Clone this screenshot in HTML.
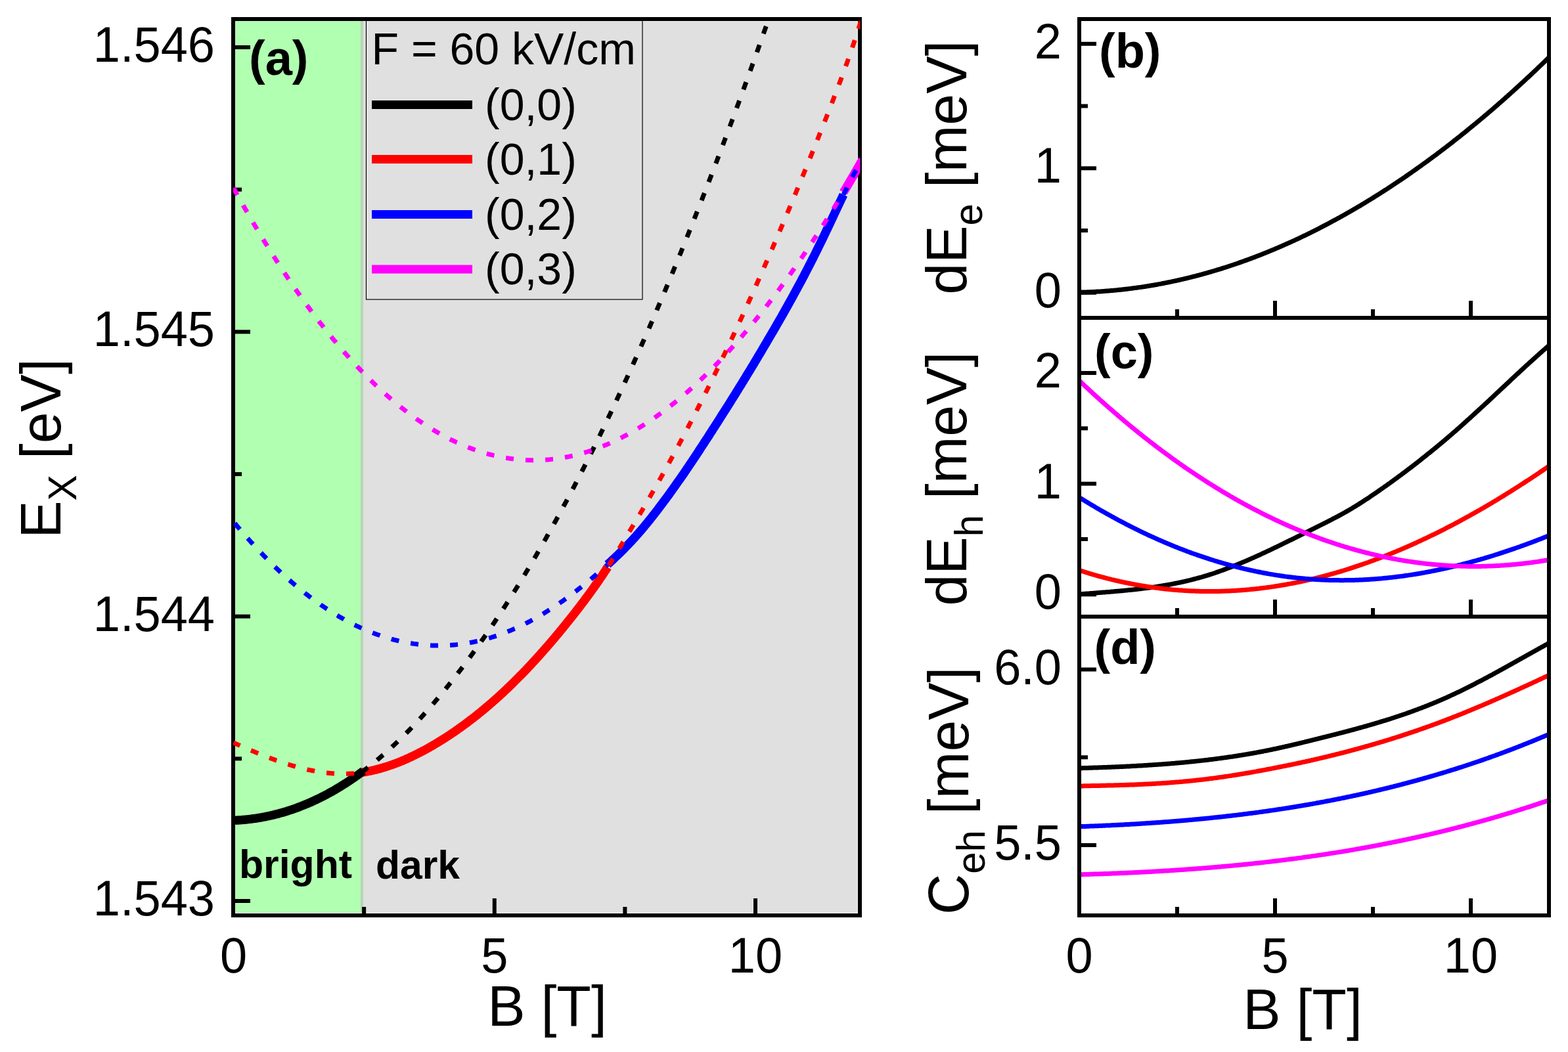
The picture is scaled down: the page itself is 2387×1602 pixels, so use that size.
<!DOCTYPE html>
<html><head><meta charset="utf-8"><title>Exciton energies vs magnetic field</title>
<style>html,body{margin:0;padding:0;background:#fff;}svg{display:block;}</style>
</head><body>
<svg width="2387" height="1602" viewBox="0 0 2387 1602">
<defs>
<clipPath id="cpa"><rect x="355" y="29" width="954.5" height="1365"/></clipPath>
<clipPath id="cpb"><rect x="1646" y="32" width="709" height="449"/></clipPath>
<clipPath id="cpc"><rect x="1646" y="487" width="709" height="449"/></clipPath>
<clipPath id="cpd"><rect x="1646" y="942" width="709" height="449"/></clipPath>
</defs>
<rect x="0" y="0" width="2387" height="1602" fill="#FFFFFF"/>
<rect x="358" y="32" width="193.5" height="1359" fill="#B1FFB1"/>
<rect x="551.5" y="32" width="754.5" height="1359" fill="#E0E0E0"/>
<rect x="549" y="32" width="3" height="1359" fill="#BCD0BC"/>
<rect x="552" y="32" width="1" height="1359" fill="#B6E0B6"/>
<rect x="553" y="32" width="1" height="1359" fill="#D6E0D6"/>
<rect x="1305" y="32" width="1" height="1359" fill="#F0F0F0"/>
<rect x="358" y="1390" width="191" height="1" fill="#FAFFFA"/>
<rect x="549" y="1390" width="757" height="1" fill="#F2F2F2"/>
<rect x="358" y="32" width="1" height="1358" fill="#BFFFBF"/>
<rect x="358" y="32" width="191" height="1" fill="#BFFFBF"/>
<rect x="553" y="32" width="752" height="1" fill="#F0F0F0"/>
<rect x="557.5" y="29" width="420.5" height="427" fill="#E0E0E0" stroke="#000" stroke-width="1.2"/>
<rect x="559" y="32" width="1" height="423" fill="#F0F0F0"/>
<g font-family="'Liberation Sans', Arial, sans-serif" font-size="68" fill="#000">
<text transform="translate(565.5,98.2) scale(1,1.02)" >F = 60 kV/cm</text>
<rect x="566" y="153.0" width="153" height="13" fill="#000000"/>
<text transform="translate(738.0,183.0)" >(0,0)</text>
<rect x="566" y="236.0" width="153" height="13" fill="#FF0000"/>
<text transform="translate(738.0,265.8)" >(0,1)</text>
<rect x="566" y="320.0" width="153" height="13" fill="#0000FF"/>
<text transform="translate(738.0,350.0)" >(0,2)</text>
<rect x="566" y="403.5" width="153" height="13" fill="#FF00FF"/>
<text transform="translate(738.0,432.7)" >(0,3)</text>
</g>
<g font-family="'Liberation Sans', Arial, sans-serif" font-weight="bold" fill="#000">
<text transform="translate(379.0,114.0)" font-size="74">(a)</text>
<text transform="translate(364.0,1337.3)" font-size="62" textLength="172" lengthAdjust="spacingAndGlyphs">bright</text>
<text transform="translate(572.0,1337.8)" font-size="62" textLength="128" lengthAdjust="spacingAndGlyphs">dark</text>
<text transform="translate(1673.0,103.0)" font-size="74">(b)</text>
<text transform="translate(1666.0,561.0)" font-size="74">(c)</text>
<text transform="translate(1665.5,1011.0)" font-size="74">(d)</text>
</g>
<rect x="355" y="29" width="954" height="1365" fill="none" stroke="#000" stroke-width="6"/>
<rect x="749.75" y="1368" width="6" height="26" fill="#000"/>
<rect x="1147.00" y="1368" width="6" height="26" fill="#000"/>
<rect x="551.12" y="1381" width="6" height="13" fill="#000"/>
<rect x="948.38" y="1381" width="6" height="13" fill="#000"/>
<rect x="355" y="69.00" width="26" height="6" fill="#000"/>
<rect x="355" y="502.33" width="26" height="6" fill="#000"/>
<rect x="355" y="935.67" width="26" height="6" fill="#000"/>
<rect x="355" y="1369.00" width="26" height="6" fill="#000"/>
<rect x="355" y="285.67" width="13" height="6" fill="#000"/>
<rect x="355" y="719.00" width="13" height="6" fill="#000"/>
<rect x="355" y="1152.33" width="13" height="6" fill="#000"/>
<g clip-path="url(#cpa)" fill="none" stroke-linejoin="round">
<path d="M550.5,1176.3 L552.0,1176.1 L553.5,1175.8 L555.0,1175.6 L556.5,1175.3 L558.0,1175.1 L559.5,1174.8 L561.0,1174.5 L562.5,1174.2 L564.0,1173.9 L565.5,1173.6 L567.0,1173.2 L568.5,1172.9 L570.1,1172.5 L571.6,1172.2 L573.1,1171.8 L574.6,1171.4 L576.1,1171.0 L577.6,1170.6 L579.1,1170.2 L580.6,1169.8 L582.1,1169.3 L583.6,1168.9 L585.1,1168.4 L586.6,1168.0 L588.1,1167.5 L589.6,1167.0 L591.1,1166.5 L592.6,1166.0 L594.1,1165.5 L595.6,1165.0 L597.1,1164.5 L598.6,1163.9 L600.1,1163.4 L601.6,1162.8 L603.1,1162.2 L604.6,1161.7 L606.1,1161.1 L607.7,1160.5 L609.2,1159.9 L610.7,1159.3 L612.2,1158.6 L613.7,1158.0 L615.2,1157.4 L616.7,1156.7 L618.2,1156.1 L619.7,1155.4 L621.2,1154.7 L622.7,1154.0 L624.2,1153.3 L625.7,1152.6 L627.2,1151.9 L628.7,1151.2 L630.2,1150.5 L631.7,1149.7 L633.2,1149.0 L634.7,1148.2 L636.2,1147.5 L637.7,1146.7 L639.2,1145.9 L640.7,1145.2 L642.2,1144.4 L643.7,1143.6 L645.3,1142.8 L646.8,1142.0 L648.3,1141.1 L649.8,1140.3 L651.3,1139.5 L652.8,1138.6 L654.3,1137.8 L655.8,1136.9 L657.3,1136.1 L658.8,1135.2 L660.3,1134.3 L661.8,1133.4 L663.3,1132.5 L664.8,1131.6 L666.3,1130.7 L667.8,1129.8 L669.3,1128.9 L670.8,1127.9 L672.3,1127.0 L673.8,1126.1 L675.3,1125.1 L676.8,1124.2 L678.3,1123.2 L679.8,1122.2 L681.3,1121.2 L682.9,1120.3 L684.4,1119.3 L685.9,1118.3 L687.4,1117.3 L688.9,1116.2 L690.4,1115.2 L691.9,1114.2 L693.4,1113.2 L694.9,1112.1 L696.4,1111.1 L697.9,1110.0 L699.4,1108.9 L700.9,1107.9 L702.4,1106.8 L703.9,1105.7 L705.4,1104.6 L706.9,1103.5 L708.4,1102.4 L709.9,1101.3 L711.4,1100.2 L712.9,1099.0 L714.4,1097.9 L715.9,1096.7 L717.4,1095.6 L718.9,1094.4 L720.5,1093.3 L722.0,1092.1 L723.5,1090.9 L725.0,1089.7 L726.5,1088.5 L728.0,1087.3 L729.5,1086.1 L731.0,1084.9 L732.5,1083.7 L734.0,1082.4 L735.5,1081.2 L737.0,1079.9 L738.5,1078.7 L740.0,1077.4 L741.5,1076.1 L743.0,1074.9 L744.5,1073.6 L746.0,1072.3 L747.5,1071.0 L749.0,1069.7 L750.5,1068.3 L752.0,1067.0 L753.5,1065.7 L755.0,1064.4 L756.6,1063.0 L758.1,1061.6 L759.6,1060.3 L761.1,1058.9 L762.6,1057.5 L764.1,1056.1 L765.6,1054.8 L767.1,1053.4 L768.6,1051.9 L770.1,1050.5 L771.6,1049.1 L773.1,1047.7 L774.6,1046.2 L776.1,1044.8 L777.6,1043.3 L779.1,1041.9 L780.6,1040.4 L782.1,1038.9 L783.6,1037.4 L785.1,1035.9 L786.6,1034.4 L788.1,1032.9 L789.6,1031.4 L791.1,1029.9 L792.6,1028.3 L794.2,1026.8 L795.7,1025.3 L797.2,1023.7 L798.7,1022.1 L800.2,1020.6 L801.7,1019.0 L803.2,1017.4 L804.7,1015.8 L806.2,1014.2 L807.7,1012.6 L809.2,1011.0 L810.7,1009.4 L812.2,1007.7 L813.7,1006.1 L815.2,1004.5 L816.7,1002.8 L818.2,1001.1 L819.7,999.5 L821.2,997.8 L822.7,996.1 L824.2,994.4 L825.7,992.8 L827.2,991.1 L828.7,989.3 L830.2,987.6 L831.8,985.9 L833.3,984.2 L834.8,982.4 L836.3,980.7 L837.8,978.9 L839.3,977.2 L840.8,975.4 L842.3,973.7 L843.8,971.9 L845.3,970.1 L846.8,968.3 L848.3,966.5 L849.8,964.7 L851.3,962.9 L852.8,961.1 L854.3,959.2 L855.8,957.4 L857.3,955.6 L858.8,953.7 L860.3,951.9 L861.8,950.0 L863.3,948.1 L864.8,946.3 L866.3,944.4 L867.8,942.5 L869.4,940.6 L870.9,938.7 L872.4,936.8 L873.9,934.9 L875.4,933.0 L876.9,931.1 L878.4,929.1 L879.9,927.2 L881.4,925.2 L882.9,923.3 L884.4,921.3 L885.9,919.3 L887.4,917.3 L888.9,915.4 L890.4,913.3 L891.9,911.3 L893.4,909.3 L894.9,907.3 L896.4,905.2 L897.9,903.2 L899.4,901.1 L900.9,899.0 L902.4,896.9 L903.9,894.8 L905.4,892.7 L907.0,890.5 L908.5,888.4 L910.0,886.2 L911.5,884.0 L913.0,881.8 L914.5,879.6 L916.0,877.4 L917.5,875.2 L919.0,872.9 L920.5,870.6 L922.0,868.3 L923.5,866.0 L925.0,863.7" stroke="#FF0000" stroke-width="13.3"/>
<path d="M355.5,1249.4 L357.0,1249.3 L358.5,1249.2 L360.0,1249.2 L361.5,1249.1 L363.0,1249.0 L364.5,1248.9 L366.1,1248.8 L367.6,1248.7 L369.1,1248.5 L370.6,1248.4 L372.1,1248.3 L373.6,1248.1 L375.1,1248.0 L376.6,1247.8 L378.1,1247.7 L379.6,1247.5 L381.1,1247.3 L382.6,1247.1 L384.1,1246.9 L385.7,1246.7 L387.2,1246.5 L388.7,1246.3 L390.2,1246.1 L391.7,1245.8 L393.2,1245.6 L394.7,1245.3 L396.2,1245.1 L397.7,1244.8 L399.2,1244.6 L400.7,1244.3 L402.2,1244.0 L403.7,1243.7 L405.3,1243.4 L406.8,1243.1 L408.3,1242.8 L409.8,1242.4 L411.3,1242.1 L412.8,1241.8 L414.3,1241.4 L415.8,1241.1 L417.3,1240.7 L418.8,1240.3 L420.3,1239.9 L421.8,1239.6 L423.3,1239.2 L424.9,1238.8 L426.4,1238.3 L427.9,1237.9 L429.4,1237.5 L430.9,1237.1 L432.4,1236.6 L433.9,1236.2 L435.4,1235.7 L436.9,1235.2 L438.4,1234.8 L439.9,1234.3 L441.4,1233.8 L442.9,1233.3 L444.5,1232.8 L446.0,1232.3 L447.5,1231.7 L449.0,1231.2 L450.5,1230.7 L452.0,1230.1 L453.5,1229.6 L455.0,1229.0 L456.5,1228.4 L458.0,1227.8 L459.5,1227.2 L461.0,1226.6 L462.5,1226.0 L464.0,1225.4 L465.6,1224.8 L467.1,1224.2 L468.6,1223.5 L470.1,1222.9 L471.6,1222.2 L473.1,1221.6 L474.6,1220.9 L476.1,1220.2 L477.6,1219.5 L479.1,1218.8 L480.6,1218.1 L482.1,1217.4 L483.6,1216.7 L485.2,1216.0 L486.7,1215.2 L488.2,1214.5 L489.7,1213.7 L491.2,1212.9 L492.7,1212.2 L494.2,1211.4 L495.7,1210.6 L497.2,1209.8 L498.7,1209.0 L500.2,1208.2 L501.7,1207.4 L503.2,1206.5 L504.8,1205.7 L506.3,1204.8 L507.8,1204.0 L509.3,1203.1 L510.8,1202.2 L512.3,1201.3 L513.8,1200.4 L515.3,1199.5 L516.8,1198.6 L518.3,1197.7 L519.8,1196.8 L521.3,1195.8 L522.8,1194.9 L524.4,1193.9 L525.9,1193.0 L527.4,1192.0 L528.9,1191.0 L530.4,1190.0 L531.9,1189.0 L533.4,1188.0 L534.9,1187.0 L536.4,1186.0 L537.9,1184.9 L539.4,1183.9 L540.9,1182.8 L542.4,1181.8 L544.0,1180.7 L545.5,1179.6 L547.0,1178.5 L548.5,1177.4 L550.0,1176.3 L551.5,1175.2 L553.0,1174.1" stroke="#000000" stroke-width="13.3"/>
<path d="M925.0,859.6 L926.5,858.2 L928.0,856.9 L929.5,855.5 L931.0,854.1 L932.5,852.7 L934.0,851.3 L935.5,849.9 L937.0,848.4 L938.5,847.0 L940.0,845.6 L941.5,844.1 L943.0,842.7 L944.5,841.2 L946.0,839.7 L947.5,838.2 L949.0,836.7 L950.5,835.2 L952.0,833.6 L953.5,832.1 L955.0,830.5 L956.5,829.0 L958.0,827.4 L959.5,825.8 L961.1,824.2 L962.6,822.5 L964.1,820.9 L965.6,819.2 L967.1,817.6 L968.6,815.9 L970.1,814.2 L971.6,812.5 L973.1,810.7 L974.6,809.0 L976.1,807.3 L977.6,805.5 L979.1,803.7 L980.6,801.9 L982.1,800.1 L983.6,798.3 L985.1,796.5 L986.6,794.6 L988.1,792.8 L989.6,790.9 L991.1,789.0 L992.6,787.1 L994.1,785.2 L995.6,783.3 L997.1,781.4 L998.6,779.5 L1000.1,777.5 L1001.6,775.6 L1003.1,773.6 L1004.6,771.6 L1006.1,769.6 L1007.6,767.6 L1009.1,765.6 L1010.6,763.6 L1012.1,761.6 L1013.6,759.6 L1015.1,757.5 L1016.6,755.4 L1018.1,753.4 L1019.6,751.3 L1021.1,749.2 L1022.6,747.1 L1024.1,745.0 L1025.6,742.9 L1027.1,740.8 L1028.6,738.7 L1030.1,736.5 L1031.6,734.4 L1033.2,732.2 L1034.7,730.1 L1036.2,727.9 L1037.7,725.7 L1039.2,723.6 L1040.7,721.4 L1042.2,719.2 L1043.7,717.0 L1045.2,714.8 L1046.7,712.6 L1048.2,710.3 L1049.7,708.1 L1051.2,705.9 L1052.7,703.6 L1054.2,701.4 L1055.7,699.1 L1057.2,696.9 L1058.7,694.6 L1060.2,692.4 L1061.7,690.1 L1063.2,687.8 L1064.7,685.5 L1066.2,683.2 L1067.7,680.9 L1069.2,678.6 L1070.7,676.3 L1072.2,674.0 L1073.7,671.7 L1075.2,669.4 L1076.7,667.1 L1078.2,664.8 L1079.7,662.5 L1081.2,660.1 L1082.7,657.8 L1084.2,655.5 L1085.7,653.1 L1087.2,650.8 L1088.7,648.4 L1090.2,646.1 L1091.7,643.8 L1093.2,641.4 L1094.7,639.1 L1096.2,636.7 L1097.7,634.3 L1099.2,632.0 L1100.7,629.6 L1102.2,627.2 L1103.7,624.9 L1105.3,622.5 L1106.8,620.1 L1108.3,617.7 L1109.8,615.3 L1111.3,612.9 L1112.8,610.5 L1114.3,608.1 L1115.8,605.7 L1117.3,603.3 L1118.8,600.9 L1120.3,598.5 L1121.8,596.1 L1123.3,593.7 L1124.8,591.2 L1126.3,588.8 L1127.8,586.4 L1129.3,583.9 L1130.8,581.5 L1132.3,579.1 L1133.8,576.6 L1135.3,574.2 L1136.8,571.7 L1138.3,569.2 L1139.8,566.8 L1141.3,564.3 L1142.8,561.8 L1144.3,559.3 L1145.8,556.8 L1147.3,554.4 L1148.8,551.9 L1150.3,549.4 L1151.8,546.9 L1153.3,544.4 L1154.8,541.8 L1156.3,539.3 L1157.8,536.8 L1159.3,534.3 L1160.8,531.7 L1162.3,529.2 L1163.8,526.7 L1165.3,524.1 L1166.8,521.6 L1168.3,519.0 L1169.8,516.4 L1171.3,513.9 L1172.8,511.3 L1174.3,508.7 L1175.8,506.1 L1177.4,503.6 L1178.9,501.0 L1180.4,498.4 L1181.9,495.8 L1183.4,493.1 L1184.9,490.5 L1186.4,487.9 L1187.9,485.3 L1189.4,482.7 L1190.9,480.0 L1192.4,477.4 L1193.9,474.7 L1195.4,472.0 L1196.9,469.4 L1198.4,466.7 L1199.9,464.0 L1201.4,461.3 L1202.9,458.6 L1204.4,455.9 L1205.9,453.2 L1207.4,450.5 L1208.9,447.7 L1210.4,445.0 L1211.9,442.2 L1213.4,439.5 L1214.9,436.7 L1216.4,433.9 L1217.9,431.1 L1219.4,428.3 L1220.9,425.5 L1222.4,422.6 L1223.9,419.8 L1225.4,416.9 L1226.9,414.0 L1228.4,411.2 L1229.9,408.3 L1231.4,405.3 L1232.9,402.4 L1234.4,399.5 L1235.9,396.5 L1237.4,393.6 L1238.9,390.6 L1240.4,387.6 L1241.9,384.6 L1243.4,381.5 L1244.9,378.5 L1246.4,375.4 L1247.9,372.3 L1249.5,369.2 L1251.0,366.1 L1252.5,363.0 L1254.0,359.9 L1255.5,356.7 L1257.0,353.6 L1258.5,350.4 L1260.0,347.3 L1261.5,344.1 L1263.0,340.9 L1264.5,337.7 L1266.0,334.6 L1267.5,331.4 L1269.0,328.2 L1270.5,325.0 L1272.0,321.8 L1273.5,318.7 L1275.0,315.5 L1276.5,312.3 L1278.0,309.2 L1279.5,306.0 L1281.0,302.9 L1282.5,299.7 L1284.0,296.6" stroke="#0000FF" stroke-width="13.3"/>
<path d="M1284.0,292.9 L1285.5,290.3 L1287.1,287.8 L1288.6,285.2 L1290.1,282.6 L1291.6,280.1 L1293.2,277.5 L1294.7,274.9 L1296.2,272.3 L1297.7,269.7 L1299.3,267.1 L1300.8,264.4 L1302.3,261.8 L1303.8,259.2 L1305.4,256.5 L1306.9,253.9 L1308.4,251.2 L1309.9,248.6 L1311.5,245.9 L1313.0,243.2" stroke="#FF00FF" stroke-width="13.3"/>
<g stroke-width="7.0" stroke-dasharray="12 18.1" stroke-linecap="butt">
<path d="M550.5,1176.0 L551.5,1175.2 L552.5,1174.5 L553.5,1173.7 L554.5,1173.0 L555.5,1172.2 L556.5,1171.4 L557.5,1170.7 L558.5,1169.9 L559.5,1169.1 L560.5,1168.4 L561.5,1167.6 L562.5,1166.8 L563.5,1166.0 L564.5,1165.2 L565.5,1164.4 L566.5,1163.6 L567.5,1162.8 L568.5,1162.0 L569.5,1161.2 L570.5,1160.4 L571.5,1159.5 L572.5,1158.7 L573.5,1157.9 L574.5,1157.0 L575.5,1156.2 L576.5,1155.4 L577.5,1154.5 L578.5,1153.7 L579.5,1152.8 L580.5,1152.0 L581.5,1151.1 L582.5,1150.2 L583.5,1149.4 L584.5,1148.5 L585.5,1147.6 L586.5,1146.7 L587.5,1145.8 L588.5,1144.9 L589.5,1144.0 L590.5,1143.1 L591.5,1142.2 L592.5,1141.3 L593.5,1140.4 L594.5,1139.5 L595.5,1138.6 L596.5,1137.7 L597.5,1136.7 L598.5,1135.8 L599.5,1134.9 L600.5,1133.9 L601.5,1133.0 L602.5,1132.0 L603.5,1131.1 L604.5,1130.1 L605.5,1129.2 L606.5,1128.2 L607.5,1127.2 L608.5,1126.2 L609.5,1125.3 L610.5,1124.3 L611.5,1123.3 L612.5,1122.3 L613.6,1121.3 L614.6,1120.3 L615.6,1119.3 L616.6,1118.3 L617.6,1117.3 L618.6,1116.3 L619.6,1115.3 L620.6,1114.3 L621.6,1113.3 L622.6,1112.2 L623.6,1111.2 L624.6,1110.2 L625.6,1109.1 L626.6,1108.1 L627.6,1107.0 L628.6,1106.0 L629.6,1104.9 L630.6,1103.9 L631.6,1102.8 L632.6,1101.7 L633.6,1100.7 L634.6,1099.6 L635.6,1098.5 L636.6,1097.4 L637.6,1096.4 L638.6,1095.3 L639.6,1094.2 L640.6,1093.1 L641.6,1092.0 L642.6,1090.9 L643.6,1089.8 L644.6,1088.7 L645.6,1087.5 L646.6,1086.4 L647.6,1085.3 L648.6,1084.2 L649.6,1083.0 L650.6,1081.9 L651.6,1080.8 L652.6,1079.6 L653.6,1078.5 L654.6,1077.3 L655.6,1076.2 L656.6,1075.0 L657.6,1073.9 L658.6,1072.7 L659.6,1071.5 L660.6,1070.4 L661.6,1069.2 L662.6,1068.0 L663.6,1066.8 L664.6,1065.7 L665.6,1064.5 L666.6,1063.3 L667.6,1062.1 L668.6,1060.9 L669.6,1059.7 L670.6,1058.5 L671.6,1057.3 L672.6,1056.0 L673.6,1054.8 L674.6,1053.6 L675.6,1052.4 L676.6,1051.1 L677.6,1049.9 L678.6,1048.7 L679.6,1047.4 L680.6,1046.2 L681.6,1044.9 L682.6,1043.7 L683.6,1042.4 L684.6,1041.2 L685.6,1039.9 L686.6,1038.7 L687.6,1037.4 L688.6,1036.1 L689.6,1034.8 L690.6,1033.6 L691.6,1032.3 L692.6,1031.0 L693.6,1029.7 L694.6,1028.4 L695.6,1027.1 L696.6,1025.8 L697.6,1024.5 L698.6,1023.2 L699.6,1021.9 L700.6,1020.6 L701.6,1019.3 L702.6,1018.0 L703.6,1016.6 L704.6,1015.3 L705.6,1014.0 L706.6,1012.6 L707.6,1011.3 L708.6,1010.0 L709.6,1008.6 L710.6,1007.3 L711.6,1005.9 L712.6,1004.6 L713.6,1003.2 L714.6,1001.8 L715.6,1000.5 L716.6,999.1 L717.6,997.7 L718.6,996.4 L719.6,995.0 L720.6,993.6 L721.6,992.2 L722.6,990.8 L723.6,989.4 L724.6,988.0 L725.6,986.6 L726.6,985.2 L727.6,983.8 L728.6,982.4 L729.6,981.0 L730.6,979.6 L731.6,978.2 L732.6,976.7 L733.6,975.3 L734.6,973.9 L735.6,972.5 L736.6,971.0 L737.7,969.6 L738.7,968.1 L739.7,966.7 L740.7,965.2 L741.7,963.8 L742.7,962.3 L743.7,960.9 L744.7,959.4 L745.7,957.9 L746.7,956.4 L747.7,955.0 L748.7,953.5 L749.7,952.0 L750.7,950.5 L751.7,949.0 L752.7,947.5 L753.7,946.0 L754.7,944.5 L755.7,943.0 L756.7,941.5 L757.7,940.0 L758.7,938.5 L759.7,937.0 L760.7,935.5 L761.7,934.0 L762.7,932.4 L763.7,930.9 L764.7,929.4 L765.7,927.8 L766.7,926.3 L767.7,924.7 L768.7,923.2 L769.7,921.6 L770.7,920.1 L771.7,918.5 L772.7,917.0 L773.7,915.4 L774.7,913.8 L775.7,912.2 L776.7,910.7 L777.7,909.1 L778.7,907.5 L779.7,905.9 L780.7,904.3 L781.7,902.7 L782.7,901.1 L783.7,899.5 L784.7,897.9 L785.7,896.3 L786.7,894.7 L787.7,893.1 L788.7,891.5 L789.7,889.9 L790.7,888.2 L791.7,886.6 L792.7,885.0 L793.7,883.3 L794.7,881.7 L795.7,880.1 L796.7,878.4 L797.7,876.8 L798.7,875.1 L799.7,873.5 L800.7,871.8 L801.7,870.1 L802.7,868.5 L803.7,866.8 L804.7,865.1 L805.7,863.4 L806.7,861.8 L807.7,860.1 L808.7,858.4 L809.7,856.7 L810.7,855.0 L811.7,853.3 L812.7,851.6 L813.7,849.9 L814.7,848.2 L815.7,846.5 L816.7,844.8 L817.7,843.0 L818.7,841.3 L819.7,839.6 L820.7,837.9 L821.7,836.1 L822.7,834.4 L823.7,832.7 L824.7,830.9 L825.7,829.2 L826.7,827.4 L827.7,825.7 L828.7,823.9 L829.7,822.1 L830.7,820.4 L831.7,818.6 L832.7,816.8 L833.7,815.1 L834.7,813.3 L835.7,811.5 L836.7,809.7 L837.7,807.9 L838.7,806.1 L839.7,804.3 L840.7,802.5 L841.7,800.7 L842.7,798.9 L843.7,797.1 L844.7,795.3 L845.7,793.5 L846.7,791.7 L847.7,789.8 L848.7,788.0 L849.7,786.2 L850.7,784.3 L851.7,782.5 L852.7,780.7 L853.7,778.8 L854.7,777.0 L855.7,775.1 L856.7,773.3 L857.7,771.4 L858.7,769.5 L859.7,767.7 L860.7,765.8 L861.8,763.9 L862.8,762.0 L863.8,760.2 L864.8,758.3 L865.8,756.4 L866.8,754.5 L867.8,752.6 L868.8,750.7 L869.8,748.8 L870.8,746.9 L871.8,745.0 L872.8,743.1 L873.8,741.2 L874.8,739.2 L875.8,737.3 L876.8,735.4 L877.8,733.5 L878.8,731.5 L879.8,729.6 L880.8,727.7 L881.8,725.7 L882.8,723.8 L883.8,721.8 L884.8,719.9 L885.8,717.9 L886.8,715.9 L887.8,714.0 L888.8,712.0 L889.8,710.0 L890.8,708.1 L891.8,706.1 L892.8,704.1 L893.8,702.1 L894.8,700.1 L895.8,698.1 L896.8,696.1 L897.8,694.1 L898.8,692.1 L899.8,690.1 L900.8,688.1 L901.8,686.1 L902.8,684.1 L903.8,682.1 L904.8,680.0 L905.8,678.0 L906.8,676.0 L907.8,673.9 L908.8,671.9 L909.8,669.9 L910.8,667.8 L911.8,665.8 L912.8,663.7 L913.8,661.7 L914.8,659.6 L915.8,657.5 L916.8,655.5 L917.8,653.4 L918.8,651.3 L919.8,649.2 L920.8,647.2 L921.8,645.1 L922.8,643.0 L923.8,640.9 L924.8,638.8 L925.8,636.7 L926.8,634.6 L927.8,632.5 L928.8,630.4 L929.8,628.3 L930.8,626.2 L931.8,624.1 L932.8,621.9 L933.8,619.8 L934.8,617.7 L935.8,615.6 L936.8,613.4 L937.8,611.3 L938.8,609.1 L939.8,607.0 L940.8,604.8 L941.8,602.7 L942.8,600.5 L943.8,598.4 L944.8,596.2 L945.8,594.1 L946.8,591.9 L947.8,589.7 L948.8,587.5 L949.8,585.4 L950.8,583.2 L951.8,581.0 L952.8,578.8 L953.8,576.6 L954.8,574.4 L955.8,572.2 L956.8,570.0 L957.8,567.8 L958.8,565.6 L959.8,563.4 L960.8,561.2 L961.8,559.0 L962.8,556.7 L963.8,554.5 L964.8,552.3 L965.8,550.0 L966.8,547.8 L967.8,545.6 L968.8,543.3 L969.8,541.1 L970.8,538.8 L971.8,536.6 L972.8,534.3 L973.8,532.1 L974.8,529.8 L975.8,527.5 L976.8,525.3 L977.8,523.0 L978.8,520.7 L979.8,518.5 L980.8,516.2 L981.8,513.9 L982.8,511.6 L983.8,509.3 L984.8,507.0 L985.9,504.7 L986.9,502.4 L987.9,500.1 L988.9,497.8 L989.9,495.5 L990.9,493.2 L991.9,490.9 L992.9,488.5 L993.9,486.2 L994.9,483.9 L995.9,481.6 L996.9,479.2 L997.9,476.9 L998.9,474.6 L999.9,472.2 L1000.9,469.9 L1001.9,467.5 L1002.9,465.2 L1003.9,462.8 L1004.9,460.4 L1005.9,458.1 L1006.9,455.7 L1007.9,453.3 L1008.9,451.0 L1009.9,448.6 L1010.9,446.2 L1011.9,443.8 L1012.9,441.5 L1013.9,439.1 L1014.9,436.7 L1015.9,434.3 L1016.9,431.9 L1017.9,429.5 L1018.9,427.1 L1019.9,424.7 L1020.9,422.3 L1021.9,419.8 L1022.9,417.4 L1023.9,415.0 L1024.9,412.6 L1025.9,410.2 L1026.9,407.7 L1027.9,405.3 L1028.9,402.9 L1029.9,400.4 L1030.9,398.0 L1031.9,395.5 L1032.9,393.1 L1033.9,390.6 L1034.9,388.2 L1035.9,385.7 L1036.9,383.3 L1037.9,380.8 L1038.9,378.3 L1039.9,375.9 L1040.9,373.4 L1041.9,370.9 L1042.9,368.4 L1043.9,366.0 L1044.9,363.5 L1045.9,361.0 L1046.9,358.5 L1047.9,356.0 L1048.9,353.5 L1049.9,351.0 L1050.9,348.5 L1051.9,346.0 L1052.9,343.5 L1053.9,341.0 L1054.9,338.5 L1055.9,335.9 L1056.9,333.4 L1057.9,330.9 L1058.9,328.4 L1059.9,325.8 L1060.9,323.3 L1061.9,320.8 L1062.9,318.2 L1063.9,315.7 L1064.9,313.1 L1065.9,310.6 L1066.9,308.0 L1067.9,305.5 L1068.9,302.9 L1069.9,300.4 L1070.9,297.8 L1071.9,295.2 L1072.9,292.6 L1073.9,290.1 L1074.9,287.5 L1075.9,284.9 L1076.9,282.3 L1077.9,279.8 L1078.9,277.2 L1079.9,274.6 L1080.9,272.0 L1081.9,269.4 L1082.9,266.8 L1083.9,264.2 L1084.9,261.6 L1085.9,259.0 L1086.9,256.3 L1087.9,253.7 L1088.9,251.1 L1089.9,248.5 L1090.9,245.9 L1091.9,243.2 L1092.9,240.6 L1093.9,238.0 L1094.9,235.3 L1095.9,232.7 L1096.9,230.1 L1097.9,227.4 L1098.9,224.8 L1099.9,222.1 L1100.9,219.5 L1101.9,216.8 L1102.9,214.1 L1103.9,211.5 L1104.9,208.8 L1105.9,206.1 L1106.9,203.5 L1107.9,200.8 L1108.9,198.1 L1110.0,195.4 L1111.0,192.8 L1112.0,190.1 L1113.0,187.4 L1114.0,184.7 L1115.0,182.0 L1116.0,179.3 L1117.0,176.6 L1118.0,173.9 L1119.0,171.2 L1120.0,168.5 L1121.0,165.8 L1122.0,163.0 L1123.0,160.3 L1124.0,157.6 L1125.0,154.9 L1126.0,152.2 L1127.0,149.4 L1128.0,146.7 L1129.0,144.0 L1130.0,141.2 L1131.0,138.5 L1132.0,135.7 L1133.0,133.0 L1134.0,130.2 L1135.0,127.5 L1136.0,124.7 L1137.0,122.0 L1138.0,119.2 L1139.0,116.4 L1140.0,113.7 L1141.0,110.9 L1142.0,108.1 L1143.0,105.4 L1144.0,102.6 L1145.0,99.8 L1146.0,97.0 L1147.0,94.2 L1148.0,91.4 L1149.0,88.7 L1150.0,85.9 L1151.0,83.1 L1152.0,80.3 L1153.0,77.5 L1154.0,74.7 L1155.0,71.8 L1156.0,69.0 L1157.0,66.2 L1158.0,63.4 L1159.0,60.6 L1160.0,57.8 L1161.0,54.9 L1162.0,52.1 L1163.0,49.3 L1164.0,46.4 L1165.0,43.6 L1166.0,40.8 L1167.0,37.9 L1168.0,35.1 L1169.0,32.2 L1170.0,29.4 L1171.0,26.5 L1172.0,23.7" stroke="#000000"/>
<path d="M355.5,1131.0 L357.0,1131.7 L358.5,1132.4 L360.0,1133.0 L361.5,1133.7 L363.0,1134.4 L364.5,1135.0 L366.0,1135.7 L367.5,1136.3 L369.0,1137.0 L370.5,1137.7 L372.0,1138.3 L373.5,1139.0 L375.0,1139.6 L376.5,1140.3 L378.0,1140.9 L379.5,1141.5 L381.0,1142.2 L382.5,1142.8 L384.0,1143.5 L385.5,1144.1 L387.0,1144.7 L388.5,1145.3 L390.0,1146.0 L391.5,1146.6 L393.0,1147.2 L394.5,1147.8 L396.0,1148.4 L397.5,1149.0 L399.0,1149.6 L400.5,1150.2 L402.0,1150.8 L403.5,1151.4 L405.0,1152.0 L406.5,1152.6 L408.0,1153.2 L409.5,1153.8 L411.0,1154.3 L412.5,1154.9 L414.0,1155.5 L415.5,1156.0 L417.0,1156.6 L418.5,1157.1 L420.0,1157.7 L421.5,1158.2 L423.0,1158.7 L424.5,1159.3 L426.0,1159.8 L427.5,1160.3 L429.0,1160.8 L430.5,1161.3 L432.0,1161.8 L433.5,1162.3 L435.0,1162.8 L436.5,1163.3 L438.0,1163.8 L439.5,1164.2 L441.0,1164.7 L442.5,1165.2 L444.0,1165.6 L445.5,1166.1 L447.0,1166.5 L448.5,1166.9 L450.0,1167.4 L451.5,1167.8 L453.0,1168.2 L454.5,1168.6 L456.0,1169.0 L457.5,1169.4 L459.0,1169.8 L460.5,1170.2 L462.0,1170.5 L463.5,1170.9 L465.0,1171.3 L466.5,1171.6 L468.0,1172.0 L469.5,1172.3 L471.0,1172.6 L472.5,1172.9 L474.0,1173.2 L475.5,1173.5 L477.0,1173.8 L478.5,1174.1 L480.0,1174.4 L481.5,1174.7 L483.0,1174.9 L484.5,1175.2 L486.0,1175.4 L487.5,1175.7 L489.0,1175.9 L490.5,1176.1 L492.0,1176.3 L493.5,1176.5 L495.0,1176.7 L496.5,1176.9 L498.0,1177.0 L499.5,1177.2 L501.0,1177.3 L502.5,1177.5 L504.0,1177.6 L505.5,1177.7 L507.0,1177.8 L508.5,1177.9 L510.0,1178.0 L511.5,1178.1 L513.0,1178.2 L514.5,1178.2 L516.0,1178.3 L517.5,1178.3 L519.0,1178.3 L520.5,1178.4 L522.0,1178.4 L523.5,1178.4 L525.0,1178.3 L526.5,1178.3 L528.0,1178.3 L529.5,1178.2 L531.0,1178.2 L532.5,1178.1 L534.0,1178.0 L535.5,1177.9 L537.0,1177.8 L538.5,1177.7 L540.0,1177.5 L541.5,1177.4 L543.0,1177.2 L544.5,1177.1 L546.0,1176.9 L547.5,1176.7 L549.0,1176.5 L550.5,1176.3" stroke="#FF0000" stroke-dashoffset="1.1"/>
<path d="M925.0,863.7 L926.0,862.2 L927.0,860.6 L928.0,859.0 L929.0,857.5 L930.0,855.9 L931.0,854.3 L932.0,852.7 L933.0,851.1 L934.0,849.5 L935.0,847.8 L936.0,846.2 L937.0,844.6 L938.0,842.9 L939.0,841.3 L940.0,839.7 L941.0,838.0 L942.0,836.4 L943.0,834.7 L944.0,833.1 L945.0,831.4 L946.0,829.7 L947.0,828.1 L948.0,826.4 L949.0,824.8 L950.0,823.1 L951.0,821.5 L952.0,819.8 L953.0,818.1 L954.0,816.5 L955.0,814.8 L956.0,813.2 L957.0,811.5 L958.0,809.8 L959.0,808.2 L960.0,806.5 L961.0,804.8 L962.0,803.1 L963.0,801.5 L964.0,799.8 L965.0,798.1 L966.0,796.4 L967.0,794.8 L968.0,793.1 L969.0,791.4 L970.0,789.7 L971.0,788.0 L972.0,786.3 L973.0,784.6 L974.0,783.0 L975.0,781.3 L976.0,779.6 L977.0,777.9 L978.0,776.2 L979.0,774.5 L980.0,772.8 L981.0,771.0 L982.0,769.3 L983.0,767.6 L984.0,765.9 L985.0,764.2 L986.0,762.5 L987.0,760.7 L988.0,759.0 L989.0,757.3 L990.0,755.5 L991.0,753.8 L992.0,752.1 L993.0,750.3 L994.0,748.6 L995.0,746.8 L996.0,745.1 L997.0,743.3 L998.0,741.6 L999.0,739.8 L1000.0,738.0 L1001.0,736.3 L1002.0,734.5 L1003.0,732.7 L1004.0,730.9 L1005.0,729.2 L1006.0,727.4 L1007.0,725.6 L1008.0,723.8 L1009.0,722.0 L1010.0,720.2 L1011.0,718.4 L1012.0,716.6 L1013.0,714.8 L1014.0,713.0 L1015.0,711.2 L1016.0,709.4 L1017.0,707.5 L1018.0,705.7 L1019.0,703.9 L1020.0,702.1 L1021.0,700.2 L1022.0,698.4 L1023.0,696.6 L1024.0,694.7 L1025.0,692.9 L1026.0,691.0 L1027.0,689.2 L1028.0,687.3 L1029.0,685.5 L1030.0,683.6 L1031.0,681.7 L1032.0,679.9 L1033.0,678.0 L1034.0,676.1 L1035.0,674.3 L1036.0,672.4 L1037.0,670.5 L1038.0,668.6 L1039.0,666.7 L1040.0,664.8 L1041.0,662.9 L1042.0,661.0 L1043.0,659.1 L1044.0,657.2 L1045.0,655.3 L1046.0,653.4 L1047.0,651.5 L1048.0,649.6 L1049.0,647.6 L1050.0,645.7 L1051.0,643.8 L1052.0,641.9 L1053.0,639.9 L1054.0,638.0 L1055.0,636.0 L1056.0,634.1 L1057.0,632.2 L1058.0,630.2 L1059.0,628.3 L1060.0,626.3 L1061.0,624.3 L1062.0,622.4 L1063.0,620.4 L1064.0,618.4 L1065.0,616.5 L1066.0,614.5 L1067.0,612.5 L1068.0,610.5 L1069.0,608.5 L1070.0,606.5 L1071.0,604.5 L1072.0,602.6 L1073.0,600.6 L1074.0,598.5 L1075.0,596.5 L1076.0,594.5 L1077.0,592.5 L1078.0,590.5 L1079.0,588.5 L1080.0,586.5 L1081.0,584.4 L1082.0,582.4 L1083.0,580.4 L1084.0,578.3 L1085.0,576.3 L1086.0,574.3 L1087.0,572.2 L1088.0,570.2 L1089.0,568.1 L1090.0,566.1 L1091.0,564.0 L1092.0,561.9 L1093.0,559.9 L1094.0,557.8 L1095.0,555.7 L1096.0,553.7 L1097.0,551.6 L1098.0,549.5 L1099.0,547.4 L1100.0,545.3 L1101.0,543.2 L1102.0,541.1 L1103.0,539.0 L1104.0,536.9 L1105.0,534.8 L1106.0,532.7 L1107.0,530.6 L1108.0,528.5 L1109.0,526.4 L1110.0,524.3 L1111.0,522.1 L1112.0,520.0 L1113.0,517.9 L1114.0,515.8 L1115.0,513.6 L1116.0,511.5 L1117.0,509.3 L1118.0,507.2 L1119.0,505.0 L1120.0,502.9 L1121.0,500.7 L1122.0,498.6 L1123.0,496.4 L1124.0,494.3 L1125.0,492.1 L1126.0,489.9 L1127.0,487.7 L1128.0,485.6 L1129.0,483.4 L1130.0,481.2 L1131.0,479.0 L1132.0,476.8 L1133.0,474.6 L1134.0,472.4 L1135.0,470.2 L1136.0,468.0 L1137.0,465.8 L1138.0,463.6 L1139.0,461.4 L1140.0,459.2 L1141.0,457.0 L1142.0,454.8 L1143.0,452.6 L1144.0,450.3 L1145.0,448.1 L1146.0,445.9 L1147.0,443.6 L1148.0,441.4 L1149.0,439.2 L1150.0,436.9 L1151.0,434.7 L1152.0,432.4 L1153.0,430.2 L1154.0,427.9 L1155.0,425.7 L1156.0,423.4 L1157.0,421.1 L1158.0,418.9 L1159.0,416.6 L1160.0,414.3 L1161.0,412.1 L1162.0,409.8 L1163.0,407.5 L1164.0,405.2 L1165.0,402.9 L1166.0,400.6 L1167.0,398.4 L1168.0,396.1 L1169.0,393.8 L1170.0,391.5 L1171.0,389.2 L1172.0,386.9 L1173.0,384.5 L1174.0,382.2 L1175.0,379.9 L1176.0,377.6 L1177.0,375.3 L1178.0,373.0 L1179.0,370.6 L1180.0,368.3 L1181.0,366.0 L1182.0,363.6 L1183.0,361.3 L1184.0,359.0 L1185.0,356.6 L1186.0,354.3 L1187.0,351.9 L1188.0,349.6 L1189.0,347.2 L1190.0,344.9 L1191.0,342.5 L1192.0,340.2 L1193.0,337.8 L1194.0,335.4 L1195.0,333.1 L1196.0,330.7 L1197.0,328.3 L1198.0,325.9 L1199.0,323.5 L1200.0,321.2 L1201.0,318.8 L1202.0,316.4 L1203.0,314.0 L1204.0,311.6 L1205.0,309.2 L1206.0,306.8 L1207.0,304.4 L1208.0,302.0 L1209.0,299.6 L1210.0,297.2 L1211.0,294.8 L1212.0,292.4 L1213.0,289.9 L1214.0,287.5 L1215.0,285.1 L1216.0,282.7 L1217.0,280.2 L1218.0,277.8 L1219.0,275.4 L1220.0,273.0 L1221.0,270.5 L1222.0,268.1 L1223.0,265.6 L1224.0,263.2 L1225.0,260.7 L1226.0,258.3 L1227.0,255.8 L1228.0,253.4 L1229.0,250.9 L1230.0,248.5 L1231.0,246.0 L1232.0,243.5 L1233.0,241.1 L1234.0,238.6 L1235.0,236.1 L1236.0,233.6 L1237.0,231.2 L1238.0,228.7 L1239.0,226.2 L1240.0,223.7 L1241.0,221.2 L1242.0,218.7 L1243.0,216.2 L1244.0,213.7 L1245.0,211.2 L1246.0,208.7 L1247.0,206.2 L1248.0,203.7 L1249.0,201.2 L1250.0,198.7 L1251.0,196.2 L1252.0,193.7 L1253.0,191.2 L1254.0,188.6 L1255.0,186.1 L1256.0,183.6 L1257.0,181.0 L1258.0,178.5 L1259.0,175.9 L1260.0,173.4 L1261.0,170.8 L1262.0,168.3 L1263.0,165.7 L1264.0,163.2 L1265.0,160.6 L1266.0,158.0 L1267.0,155.4 L1268.0,152.8 L1269.0,150.2 L1270.0,147.6 L1271.0,145.0 L1272.0,142.4 L1273.0,139.8 L1274.0,137.1 L1275.0,134.5 L1276.0,131.9 L1277.0,129.2 L1278.0,126.5 L1279.0,123.9 L1280.0,121.2 L1281.0,118.5 L1282.0,115.8 L1283.0,113.1 L1284.0,110.4 L1285.0,107.7 L1286.0,104.9 L1287.0,102.2 L1288.0,99.4 L1289.0,96.7 L1290.0,93.9 L1291.0,91.1 L1292.0,88.2 L1293.0,85.4 L1294.0,82.5 L1295.0,79.7 L1296.0,76.8 L1297.0,73.9 L1298.0,70.9 L1299.0,68.0 L1300.0,65.0 L1301.0,62.0 L1302.0,59.0 L1303.0,56.0 L1304.0,52.9 L1305.0,49.9 L1306.0,46.8 L1307.0,43.6 L1308.0,40.5 L1309.0,37.3 L1310.0,34.1 L1311.0,30.8" stroke="#FF0000" stroke-dashoffset="-3.25"/>
<path d="M355.5,794.5 L357.0,796.3 L358.5,798.1 L360.0,799.9 L361.5,801.7 L363.0,803.5 L364.5,805.2 L366.0,807.0 L367.5,808.8 L369.0,810.5 L370.5,812.3 L372.0,814.0 L373.5,815.7 L375.0,817.4 L376.5,819.1 L378.0,820.8 L379.5,822.5 L381.0,824.2 L382.5,825.8 L384.1,827.5 L385.6,829.2 L387.1,830.8 L388.6,832.4 L390.1,834.1 L391.6,835.7 L393.1,837.3 L394.6,838.9 L396.1,840.5 L397.6,842.0 L399.1,843.6 L400.6,845.2 L402.1,846.7 L403.6,848.3 L405.1,849.8 L406.6,851.3 L408.1,852.8 L409.6,854.4 L411.1,855.9 L412.6,857.3 L414.1,858.8 L415.6,860.3 L417.1,861.8 L418.6,863.2 L420.1,864.7 L421.6,866.1 L423.1,867.5 L424.6,869.0 L426.1,870.4 L427.6,871.8 L429.1,873.2 L430.6,874.5 L432.1,875.9 L433.6,877.3 L435.1,878.6 L436.6,880.0 L438.1,881.3 L439.6,882.7 L441.2,884.0 L442.7,885.3 L444.2,886.6 L445.7,887.9 L447.2,889.2 L448.7,890.5 L450.2,891.7 L451.7,893.0 L453.2,894.3 L454.7,895.5 L456.2,896.7 L457.7,898.0 L459.2,899.2 L460.7,900.4 L462.2,901.6 L463.7,902.8 L465.2,904.0 L466.7,905.1 L468.2,906.3 L469.7,907.4 L471.2,908.6 L472.7,909.7 L474.2,910.9 L475.7,912.0 L477.2,913.1 L478.7,914.2 L480.2,915.3 L481.7,916.4 L483.2,917.4 L484.7,918.5 L486.2,919.6 L487.7,920.6 L489.2,921.7 L490.7,922.7 L492.2,923.7 L493.7,924.7 L495.2,925.7 L496.7,926.7 L498.3,927.7 L499.8,928.7 L501.3,929.7 L502.8,930.6 L504.3,931.6 L505.8,932.5 L507.3,933.5 L508.8,934.4 L510.3,935.3 L511.8,936.2 L513.3,937.1 L514.8,938.0 L516.3,938.9 L517.8,939.8 L519.3,940.6 L520.8,941.5 L522.3,942.3 L523.8,943.2 L525.3,944.0 L526.8,944.8 L528.3,945.6 L529.8,946.4 L531.3,947.2 L532.8,948.0 L534.3,948.8 L535.8,949.6 L537.3,950.3 L538.8,951.1 L540.3,951.8 L541.8,952.6 L543.3,953.3 L544.8,954.0 L546.3,954.7 L547.8,955.4 L549.3,956.1 L550.8,956.8 L552.3,957.5 L553.8,958.1 L555.4,958.8 L556.9,959.4 L558.4,960.1 L559.9,960.7 L561.4,961.3 L562.9,961.9 L564.4,962.5 L565.9,963.1 L567.4,963.7 L568.9,964.3 L570.4,964.8 L571.9,965.4 L573.4,966.0 L574.9,966.5 L576.4,967.0 L577.9,967.5 L579.4,968.1 L580.9,968.6 L582.4,969.1 L583.9,969.6 L585.4,970.0 L586.9,970.5 L588.4,971.0 L589.9,971.4 L591.4,971.9 L592.9,972.3 L594.4,972.7 L595.9,973.2 L597.4,973.6 L598.9,974.0 L600.4,974.4 L601.9,974.7 L603.4,975.1 L604.9,975.5 L606.4,975.8 L607.9,976.2 L609.4,976.5 L610.9,976.9 L612.5,977.2 L614.0,977.5 L615.5,977.8 L617.0,978.1 L618.5,978.4 L620.0,978.7 L621.5,979.0 L623.0,979.2 L624.5,979.5 L626.0,979.7 L627.5,979.9 L629.0,980.2 L630.5,980.4 L632.0,980.6 L633.5,980.8 L635.0,981.0 L636.5,981.2 L638.0,981.4 L639.5,981.5 L641.0,981.7 L642.5,981.8 L644.0,982.0 L645.5,982.1 L647.0,982.2 L648.5,982.3 L650.0,982.5 L651.5,982.6 L653.0,982.6 L654.5,982.7 L656.0,982.8 L657.5,982.9 L659.0,982.9 L660.5,983.0 L662.0,983.0 L663.5,983.0 L665.0,983.0 L666.5,983.0 L668.0,983.0 L669.6,983.0 L671.1,983.0 L672.6,983.0 L674.1,983.0 L675.6,982.9 L677.1,982.9 L678.6,982.8 L680.1,982.8 L681.6,982.7 L683.1,982.6 L684.6,982.5 L686.1,982.4 L687.6,982.3 L689.1,982.2 L690.6,982.0 L692.1,981.9 L693.6,981.8 L695.1,981.6 L696.6,981.4 L698.1,981.3 L699.6,981.1 L701.1,980.9 L702.6,980.7 L704.1,980.5 L705.6,980.3 L707.1,980.1 L708.6,979.8 L710.1,979.6 L711.6,979.3 L713.1,979.1 L714.6,978.8 L716.1,978.5 L717.6,978.3 L719.1,978.0 L720.6,977.7 L722.1,977.4 L723.6,977.0 L725.1,976.7 L726.7,976.4 L728.2,976.0 L729.7,975.7 L731.2,975.3 L732.7,975.0 L734.2,974.6 L735.7,974.2 L737.2,973.8 L738.7,973.4 L740.2,973.0 L741.7,972.6 L743.2,972.1 L744.7,971.7 L746.2,971.2 L747.7,970.8 L749.2,970.3 L750.7,969.8 L752.2,969.4 L753.7,968.9 L755.2,968.4 L756.7,967.9 L758.2,967.4 L759.7,966.8 L761.2,966.3 L762.7,965.8 L764.2,965.2 L765.7,964.6 L767.2,964.1 L768.7,963.5 L770.2,962.9 L771.7,962.3 L773.2,961.7 L774.7,961.1 L776.2,960.5 L777.7,959.9 L779.2,959.2 L780.7,958.6 L782.2,957.9 L783.8,957.3 L785.3,956.6 L786.8,955.9 L788.3,955.2 L789.8,954.5 L791.3,953.8 L792.8,953.1 L794.3,952.4 L795.8,951.7 L797.3,950.9 L798.8,950.2 L800.3,949.4 L801.8,948.7 L803.3,947.9 L804.8,947.1 L806.3,946.3 L807.8,945.5 L809.3,944.7 L810.8,943.9 L812.3,943.1 L813.8,942.2 L815.3,941.4 L816.8,940.5 L818.3,939.7 L819.8,938.8 L821.3,937.9 L822.8,937.1 L824.3,936.2 L825.8,935.3 L827.3,934.4 L828.8,933.4 L830.3,932.5 L831.8,931.6 L833.3,930.6 L834.8,929.7 L836.3,928.7 L837.8,927.8 L839.3,926.8 L840.9,925.8 L842.4,924.8 L843.9,923.8 L845.4,922.8 L846.9,921.8 L848.4,920.8 L849.9,919.8 L851.4,918.8 L852.9,917.7 L854.4,916.7 L855.9,915.6 L857.4,914.6 L858.9,913.5 L860.4,912.4 L861.9,911.3 L863.4,910.2 L864.9,909.1 L866.4,908.0 L867.9,906.9 L869.4,905.8 L870.9,904.7 L872.4,903.5 L873.9,902.4 L875.4,901.2 L876.9,900.1 L878.4,898.9 L879.9,897.8 L881.4,896.6 L882.9,895.4 L884.4,894.2 L885.9,893.0 L887.4,891.8 L888.9,890.6 L890.4,889.4 L891.9,888.2 L893.4,886.9 L894.9,885.7 L896.4,884.4 L898.0,883.2 L899.5,881.9 L901.0,880.7 L902.5,879.4 L904.0,878.1 L905.5,876.8 L907.0,875.6 L908.5,874.3 L910.0,873.0 L911.5,871.7 L913.0,870.3 L914.5,869.0 L916.0,867.7 L917.5,866.4 L919.0,865.0 L920.5,863.7 L922.0,862.3 L923.5,861.0 L925.0,859.6" stroke="#0000FF" stroke-dashoffset="-3"/>
<path d="M1284.0,296.6 L1285.0,294.5 L1286.0,292.5 L1287.0,290.4 L1288.0,288.4 L1289.0,286.3 L1290.0,284.3 L1291.0,282.3 L1292.0,280.2 L1293.0,278.2 L1294.0,276.2 L1295.0,274.3 L1296.0,272.3 L1297.0,270.4 L1298.0,268.5 L1299.0,266.6 L1300.0,264.7 L1301.0,262.9 L1302.0,261.2 L1303.0,259.4 L1304.0,257.7 L1305.0,256.1 L1306.0,254.5 L1307.0,253.0 L1308.0,251.5 L1309.0,250.1 L1310.0,248.7 L1311.0,247.4 L1312.0,246.2" stroke="#0000FF"/>
<path d="M355.5,286.3 L357.0,289.0 L358.5,291.7 L360.0,294.4 L361.5,297.2 L363.0,299.8 L364.5,302.5 L366.0,305.2 L367.5,307.9 L369.0,310.5 L370.5,313.2 L372.0,315.8 L373.5,318.5 L375.0,321.1 L376.5,323.7 L378.0,326.3 L379.5,328.9 L381.0,331.5 L382.5,334.0 L384.0,336.6 L385.5,339.2 L387.0,341.7 L388.5,344.3 L390.0,346.8 L391.5,349.3 L393.0,351.8 L394.5,354.3 L396.0,356.8 L397.5,359.3 L399.0,361.8 L400.5,364.2 L402.0,366.7 L403.5,369.2 L405.0,371.6 L406.5,374.0 L408.0,376.4 L409.5,378.9 L411.0,381.3 L412.5,383.7 L414.0,386.0 L415.5,388.4 L417.0,390.8 L418.5,393.1 L420.0,395.5 L421.5,397.8 L423.0,400.2 L424.5,402.5 L426.0,404.8 L427.5,407.1 L429.0,409.4 L430.5,411.7 L432.0,413.9 L433.5,416.2 L435.0,418.5 L436.5,420.7 L438.0,423.0 L439.5,425.2 L441.0,427.4 L442.5,429.6 L444.0,431.8 L445.5,434.0 L447.0,436.2 L448.5,438.4 L450.0,440.5 L451.5,442.7 L453.0,444.9 L454.5,447.0 L456.0,449.1 L457.5,451.2 L459.0,453.4 L460.5,455.5 L462.0,457.6 L463.5,459.6 L465.0,461.7 L466.5,463.8 L468.0,465.8 L469.5,467.9 L471.0,469.9 L472.5,472.0 L474.0,474.0 L475.5,476.0 L477.0,478.0 L478.5,480.0 L480.0,482.0 L481.5,484.0 L483.0,485.9 L484.5,487.9 L486.0,489.8 L487.5,491.8 L489.0,493.7 L490.5,495.6 L492.0,497.5 L493.5,499.5 L495.0,501.3 L496.5,503.2 L498.0,505.1 L499.5,507.0 L501.0,508.8 L502.5,510.7 L504.0,512.5 L505.5,514.4 L507.0,516.2 L508.5,518.0 L510.0,519.8 L511.5,521.6 L513.0,523.4 L514.5,525.2 L516.0,526.9 L517.5,528.7 L519.0,530.4 L520.5,532.2 L522.0,533.9 L523.5,535.6 L525.0,537.4 L526.5,539.1 L528.0,540.8 L529.5,542.5 L531.0,544.1 L532.5,545.8 L534.0,547.5 L535.5,549.1 L537.0,550.8 L538.5,552.4 L540.0,554.0 L541.5,555.6 L543.0,557.2 L544.5,558.8 L546.0,560.4 L547.5,562.0 L549.0,563.6 L550.5,565.1 L552.0,566.7 L553.5,568.2 L555.0,569.8 L556.5,571.3 L558.0,572.8 L559.5,574.3 L561.0,575.8 L562.5,577.3 L564.0,578.8 L565.5,580.3 L567.0,581.7 L568.5,583.2 L570.0,584.6 L571.5,586.1 L573.0,587.5 L574.5,588.9 L576.0,590.3 L577.5,591.7 L579.0,593.1 L580.5,594.5 L582.0,595.9 L583.5,597.2 L585.0,598.6 L586.5,599.9 L588.0,601.3 L589.5,602.6 L591.0,603.9 L592.5,605.2 L594.0,606.5 L595.5,607.8 L597.0,609.1 L598.5,610.4 L600.0,611.6 L601.5,612.9 L603.0,614.1 L604.5,615.4 L606.0,616.6 L607.5,617.8 L609.0,619.1 L610.5,620.3 L612.0,621.4 L613.5,622.6 L615.0,623.8 L616.5,625.0 L618.0,626.1 L619.5,627.3 L621.0,628.4 L622.5,629.6 L624.0,630.7 L625.5,631.8 L627.0,632.9 L628.5,634.0 L630.0,635.1 L631.5,636.2 L633.0,637.2 L634.5,638.3 L636.0,639.3 L637.5,640.4 L639.0,641.4 L640.5,642.4 L642.0,643.4 L643.5,644.5 L645.0,645.5 L646.5,646.4 L648.0,647.4 L649.5,648.4 L651.0,649.4 L652.5,650.3 L654.0,651.2 L655.5,652.2 L657.0,653.1 L658.5,654.0 L660.0,654.9 L661.5,655.8 L663.0,656.7 L664.5,657.6 L666.0,658.5 L667.5,659.3 L669.0,660.2 L670.5,661.0 L672.0,661.9 L673.5,662.7 L675.0,663.5 L676.5,664.3 L678.0,665.1 L679.5,665.9 L681.0,666.7 L682.5,667.5 L684.0,668.2 L685.5,669.0 L687.0,669.8 L688.5,670.5 L690.0,671.2 L691.5,671.9 L693.0,672.7 L694.5,673.4 L696.0,674.0 L697.5,674.7 L699.0,675.4 L700.5,676.1 L702.0,676.7 L703.5,677.4 L705.0,678.0 L706.5,678.7 L708.0,679.3 L709.5,679.9 L711.0,680.5 L712.5,681.1 L714.0,681.7 L715.5,682.3 L717.0,682.8 L718.5,683.4 L720.0,683.9 L721.5,684.5 L723.0,685.0 L724.5,685.5 L726.0,686.1 L727.5,686.6 L729.0,687.1 L730.5,687.6 L732.0,688.0 L733.5,688.5 L735.0,689.0 L736.5,689.4 L738.0,689.9 L739.5,690.3 L741.0,690.7 L742.5,691.2 L744.0,691.6 L745.5,692.0 L747.0,692.4 L748.5,692.7 L750.0,693.1 L751.5,693.5 L753.0,693.8 L754.5,694.2 L756.0,694.5 L757.5,694.9 L759.0,695.2 L760.5,695.5 L762.0,695.8 L763.5,696.1 L765.0,696.4 L766.5,696.7 L768.0,696.9 L769.5,697.2 L771.0,697.4 L772.5,697.7 L774.0,697.9 L775.5,698.1 L777.0,698.3 L778.5,698.6 L780.0,698.7 L781.5,698.9 L783.0,699.1 L784.5,699.3 L786.0,699.5 L787.5,699.6 L789.0,699.7 L790.5,699.9 L792.0,700.0 L793.5,700.1 L795.0,700.2 L796.5,700.3 L798.0,700.4 L799.5,700.5 L801.0,700.6 L802.5,700.7 L804.0,700.7 L805.5,700.8 L807.0,700.8 L808.5,700.8 L810.0,700.8 L811.5,700.9 L813.0,700.9 L814.5,700.9 L816.0,700.8 L817.5,700.8 L819.0,700.8 L820.5,700.7 L822.0,700.7 L823.5,700.6 L825.0,700.6 L826.5,700.5 L828.0,700.4 L829.5,700.3 L831.0,700.2 L832.5,700.1 L834.0,700.0 L835.5,699.9 L837.0,699.7 L838.5,699.6 L840.0,699.4 L841.5,699.2 L843.0,699.1 L844.5,698.9 L846.0,698.7 L847.5,698.5 L849.0,698.3 L850.5,698.1 L852.0,697.9 L853.5,697.6 L855.0,697.4 L856.5,697.1 L858.0,696.9 L859.5,696.6 L861.0,696.3 L862.5,696.0 L864.0,695.7 L865.5,695.4 L867.0,695.1 L868.5,694.8 L870.0,694.5 L871.5,694.1 L873.0,693.8 L874.5,693.4 L876.0,693.1 L877.5,692.7 L879.0,692.3 L880.5,691.9 L882.0,691.5 L883.5,691.1 L885.0,690.7 L886.5,690.3 L888.0,689.8 L889.5,689.4 L891.0,688.9 L892.5,688.5 L894.0,688.0 L895.5,687.5 L897.0,687.0 L898.5,686.6 L900.0,686.1 L901.5,685.5 L903.0,685.0 L904.5,684.5 L906.0,684.0 L907.5,683.4 L909.0,682.9 L910.5,682.3 L912.0,681.7 L913.5,681.1 L915.0,680.6 L916.5,680.0 L918.0,679.4 L919.5,678.7 L921.0,678.1 L922.5,677.5 L924.0,676.9 L925.5,676.2 L927.0,675.6 L928.5,674.9 L930.0,674.2 L931.5,673.5 L933.0,672.8 L934.5,672.2 L936.0,671.4 L937.5,670.7 L939.0,670.0 L940.5,669.3 L942.0,668.5 L943.5,667.8 L945.0,667.0 L946.5,666.3 L948.0,665.5 L949.5,664.7 L951.0,663.9 L952.5,663.1 L954.0,662.3 L955.5,661.5 L957.0,660.7 L958.5,659.9 L960.0,659.0 L961.5,658.2 L963.0,657.3 L964.5,656.4 L966.0,655.6 L967.5,654.7 L969.0,653.8 L970.5,652.9 L972.0,652.0 L973.5,651.1 L975.0,650.2 L976.5,649.2 L978.0,648.3 L979.5,647.3 L981.0,646.4 L982.5,645.4 L984.0,644.5 L985.5,643.5 L987.0,642.5 L988.5,641.5 L990.0,640.5 L991.5,639.5 L993.0,638.4 L994.5,637.4 L996.0,636.4 L997.5,635.3 L999.0,634.3 L1000.5,633.2 L1002.0,632.1 L1003.5,631.1 L1005.0,630.0 L1006.5,628.9 L1008.0,627.8 L1009.5,626.7 L1011.0,625.6 L1012.5,624.4 L1014.0,623.3 L1015.5,622.1 L1017.0,621.0 L1018.5,619.8 L1020.0,618.7 L1021.5,617.5 L1023.0,616.3 L1024.5,615.1 L1026.0,613.9 L1027.5,612.7 L1029.0,611.5 L1030.5,610.3 L1032.0,609.0 L1033.5,607.8 L1035.0,606.6 L1036.5,605.3 L1038.0,604.0 L1039.5,602.8 L1041.0,601.5 L1042.5,600.2 L1044.0,598.9 L1045.5,597.6 L1047.0,596.3 L1048.5,595.0 L1050.0,593.6 L1051.5,592.3 L1053.0,591.0 L1054.5,589.6 L1056.0,588.2 L1057.5,586.9 L1059.0,585.5 L1060.5,584.1 L1062.0,582.7 L1063.5,581.3 L1065.0,579.9 L1066.5,578.5 L1068.0,577.1 L1069.5,575.6 L1071.0,574.2 L1072.5,572.8 L1074.0,571.3 L1075.5,569.8 L1077.0,568.4 L1078.5,566.9 L1080.0,565.4 L1081.5,563.9 L1083.0,562.4 L1084.5,560.9 L1086.0,559.4 L1087.5,557.9 L1089.0,556.3 L1090.5,554.8 L1092.0,553.2 L1093.5,551.7 L1095.0,550.1 L1096.5,548.6 L1098.0,547.0 L1099.5,545.4 L1101.0,543.8 L1102.5,542.2 L1104.0,540.6 L1105.5,539.0 L1107.0,537.3 L1108.5,535.7 L1110.0,534.1 L1111.5,532.4 L1113.0,530.8 L1114.5,529.1 L1116.0,527.4 L1117.5,525.7 L1119.0,524.0 L1120.5,522.4 L1122.0,520.7 L1123.5,518.9 L1125.0,517.2 L1126.5,515.5 L1128.0,513.8 L1129.5,512.0 L1131.0,510.3 L1132.5,508.5 L1134.0,506.8 L1135.5,505.0 L1137.0,503.2 L1138.5,501.4 L1140.0,499.6 L1141.5,497.8 L1143.0,496.0 L1144.5,494.2 L1146.0,492.4 L1147.5,490.5 L1149.0,488.7 L1150.5,486.8 L1152.0,485.0 L1153.5,483.1 L1155.0,481.3 L1156.5,479.4 L1158.0,477.5 L1159.5,475.6 L1161.0,473.7 L1162.5,471.8 L1164.0,469.9 L1165.5,468.0 L1167.0,466.0 L1168.5,464.1 L1170.0,462.1 L1171.5,460.2 L1173.0,458.2 L1174.5,456.3 L1176.0,454.3 L1177.5,452.3 L1179.0,450.3 L1180.5,448.3 L1182.0,446.3 L1183.5,444.3 L1185.0,442.3 L1186.5,440.3 L1188.0,438.2 L1189.5,436.2 L1191.0,434.1 L1192.5,432.1 L1194.0,430.0 L1195.5,427.9 L1197.0,425.9 L1198.5,423.8 L1200.0,421.7 L1201.5,419.6 L1203.0,417.5 L1204.5,415.4 L1206.0,413.2 L1207.5,411.1 L1209.0,409.0 L1210.5,406.8 L1212.0,404.7 L1213.5,402.5 L1215.0,400.3 L1216.5,398.2 L1218.0,396.0 L1219.5,393.8 L1221.0,391.6 L1222.5,389.4 L1224.0,387.2 L1225.5,385.0 L1227.0,382.7 L1228.5,380.5 L1230.0,378.3 L1231.5,376.0 L1233.0,373.8 L1234.5,371.5 L1236.0,369.2 L1237.5,367.0 L1239.0,364.7 L1240.5,362.4 L1242.0,360.1 L1243.5,357.8 L1245.0,355.5 L1246.5,353.2 L1248.0,350.8 L1249.5,348.5 L1251.0,346.2 L1252.5,343.8 L1254.0,341.5 L1255.5,339.1 L1257.0,336.7 L1258.5,334.3 L1260.0,332.0 L1261.5,329.6 L1263.0,327.2 L1264.5,324.8 L1266.0,322.4 L1267.5,319.9 L1269.0,317.5 L1270.5,315.1 L1272.0,312.6 L1273.5,310.2 L1275.0,307.7 L1276.5,305.3 L1278.0,302.8 L1279.5,300.3 L1281.0,297.9 L1282.5,295.4 L1284.0,292.9" stroke="#FF00FF"/>
</g>
</g>
<rect x="1643" y="29" width="715" height="1365" fill="none" stroke="#000" stroke-width="6"/>
<rect x="1640" y="481.00" width="721" height="6" fill="#000"/>
<rect x="1640" y="936.00" width="721" height="6" fill="#000"/>
<rect x="1938.00" y="458" width="6" height="26" fill="#000"/>
<rect x="2236.00" y="458" width="6" height="26" fill="#000"/>
<rect x="1789.00" y="471" width="6" height="13" fill="#000"/>
<rect x="2087.00" y="471" width="6" height="13" fill="#000"/>
<rect x="1938.00" y="913" width="6" height="26" fill="#000"/>
<rect x="2236.00" y="913" width="6" height="26" fill="#000"/>
<rect x="1789.00" y="926" width="6" height="13" fill="#000"/>
<rect x="2087.00" y="926" width="6" height="13" fill="#000"/>
<rect x="1938.00" y="1368" width="6" height="26" fill="#000"/>
<rect x="2236.00" y="1368" width="6" height="26" fill="#000"/>
<rect x="1789.00" y="1381" width="6" height="13" fill="#000"/>
<rect x="2087.00" y="1381" width="6" height="13" fill="#000"/>
<rect x="1643" y="442.75" width="26" height="6" fill="#000"/>
<rect x="1643" y="253.25" width="26" height="6" fill="#000"/>
<rect x="1643" y="63.75" width="26" height="6" fill="#000"/>
<rect x="1643" y="348.00" width="13" height="6" fill="#000"/>
<rect x="1643" y="158.50" width="13" height="6" fill="#000"/>
<rect x="1643" y="902.30" width="26" height="6" fill="#000"/>
<rect x="1643" y="733.63" width="26" height="6" fill="#000"/>
<rect x="1643" y="564.96" width="26" height="6" fill="#000"/>
<rect x="1643" y="817.96" width="13" height="6" fill="#000"/>
<rect x="1643" y="649.29" width="13" height="6" fill="#000"/>
<rect x="1643" y="1284.00" width="26" height="6" fill="#000"/>
<rect x="1643" y="1016.50" width="26" height="6" fill="#000"/>
<rect x="1643" y="1150.25" width="13" height="6" fill="#000"/>
<g fill="none" stroke-linejoin="round">
<g clip-path="url(#cpb)"><path d="M1643.0,445.2 L1644.5,445.1 L1646.0,445.1 L1647.5,445.1 L1649.0,445.0 L1650.5,445.0 L1652.0,444.9 L1653.5,444.9 L1655.0,444.8 L1656.5,444.8 L1658.0,444.7 L1659.5,444.7 L1661.0,444.6 L1662.5,444.5 L1664.0,444.4 L1665.5,444.4 L1667.0,444.3 L1668.5,444.2 L1670.0,444.1 L1671.5,444.0 L1673.0,443.9 L1674.5,443.9 L1676.0,443.8 L1677.5,443.7 L1679.1,443.6 L1680.6,443.4 L1682.1,443.3 L1683.6,443.2 L1685.1,443.1 L1686.6,443.0 L1688.1,442.9 L1689.6,442.7 L1691.1,442.6 L1692.6,442.5 L1694.1,442.4 L1695.6,442.2 L1697.1,442.1 L1698.6,441.9 L1700.1,441.8 L1701.6,441.6 L1703.1,441.5 L1704.6,441.3 L1706.1,441.2 L1707.6,441.0 L1709.1,440.8 L1710.6,440.7 L1712.1,440.5 L1713.6,440.3 L1715.1,440.2 L1716.6,440.0 L1718.1,439.8 L1719.6,439.6 L1721.1,439.4 L1722.6,439.2 L1724.1,439.0 L1725.6,438.8 L1727.1,438.6 L1728.6,438.4 L1730.1,438.2 L1731.6,438.0 L1733.1,437.8 L1734.6,437.6 L1736.1,437.4 L1737.6,437.2 L1739.1,436.9 L1740.6,436.7 L1742.1,436.5 L1743.6,436.2 L1745.1,436.0 L1746.6,435.8 L1748.1,435.5 L1749.6,435.3 L1751.2,435.0 L1752.7,434.8 L1754.2,434.5 L1755.7,434.3 L1757.2,434.0 L1758.7,433.7 L1760.2,433.5 L1761.7,433.2 L1763.2,432.9 L1764.7,432.6 L1766.2,432.4 L1767.7,432.1 L1769.2,431.8 L1770.7,431.5 L1772.2,431.2 L1773.7,430.9 L1775.2,430.6 L1776.7,430.3 L1778.2,430.0 L1779.7,429.7 L1781.2,429.4 L1782.7,429.1 L1784.2,428.8 L1785.7,428.4 L1787.2,428.1 L1788.7,427.8 L1790.2,427.5 L1791.7,427.1 L1793.2,426.8 L1794.7,426.5 L1796.2,426.1 L1797.7,425.8 L1799.2,425.4 L1800.7,425.1 L1802.2,424.7 L1803.7,424.4 L1805.2,424.0 L1806.7,423.7 L1808.2,423.3 L1809.7,422.9 L1811.2,422.6 L1812.7,422.2 L1814.2,421.8 L1815.7,421.4 L1817.2,421.0 L1818.7,420.7 L1820.2,420.3 L1821.7,419.9 L1823.3,419.5 L1824.8,419.1 L1826.3,418.7 L1827.8,418.3 L1829.3,417.9 L1830.8,417.5 L1832.3,417.0 L1833.8,416.6 L1835.3,416.2 L1836.8,415.8 L1838.3,415.4 L1839.8,414.9 L1841.3,414.5 L1842.8,414.1 L1844.3,413.6 L1845.8,413.2 L1847.3,412.7 L1848.8,412.3 L1850.3,411.8 L1851.8,411.4 L1853.3,410.9 L1854.8,410.5 L1856.3,410.0 L1857.8,409.6 L1859.3,409.1 L1860.8,408.6 L1862.3,408.1 L1863.8,407.7 L1865.3,407.2 L1866.8,406.7 L1868.3,406.2 L1869.8,405.7 L1871.3,405.2 L1872.8,404.7 L1874.3,404.2 L1875.8,403.7 L1877.3,403.2 L1878.8,402.7 L1880.3,402.2 L1881.8,401.7 L1883.3,401.2 L1884.8,400.7 L1886.3,400.1 L1887.8,399.6 L1889.3,399.1 L1890.8,398.6 L1892.3,398.0 L1893.8,397.5 L1895.4,396.9 L1896.9,396.4 L1898.4,395.9 L1899.9,395.3 L1901.4,394.8 L1902.9,394.2 L1904.4,393.6 L1905.9,393.1 L1907.4,392.5 L1908.9,391.9 L1910.4,391.4 L1911.9,390.8 L1913.4,390.2 L1914.9,389.6 L1916.4,389.1 L1917.9,388.5 L1919.4,387.9 L1920.9,387.3 L1922.4,386.7 L1923.9,386.1 L1925.4,385.5 L1926.9,384.9 L1928.4,384.3 L1929.9,383.7 L1931.4,383.1 L1932.9,382.4 L1934.4,381.8 L1935.9,381.2 L1937.4,380.6 L1938.9,380.0 L1940.4,379.3 L1941.9,378.7 L1943.4,378.0 L1944.9,377.4 L1946.4,376.8 L1947.9,376.1 L1949.4,375.5 L1950.9,374.8 L1952.4,374.2 L1953.9,373.5 L1955.4,372.8 L1956.9,372.2 L1958.4,371.5 L1959.9,370.8 L1961.4,370.2 L1962.9,369.5 L1964.4,368.8 L1965.9,368.1 L1967.5,367.4 L1969.0,366.8 L1970.5,366.1 L1972.0,365.4 L1973.5,364.7 L1975.0,364.0 L1976.5,363.3 L1978.0,362.6 L1979.5,361.8 L1981.0,361.1 L1982.5,360.4 L1984.0,359.7 L1985.5,359.0 L1987.0,358.3 L1988.5,357.5 L1990.0,356.8 L1991.5,356.1 L1993.0,355.3 L1994.5,354.6 L1996.0,353.8 L1997.5,353.1 L1999.0,352.3 L2000.5,351.6 L2002.0,350.8 L2003.5,350.1 L2005.0,349.3 L2006.5,348.6 L2008.0,347.8 L2009.5,347.0 L2011.0,346.2 L2012.5,345.5 L2014.0,344.7 L2015.5,343.9 L2017.0,343.1 L2018.5,342.3 L2020.0,341.5 L2021.5,340.8 L2023.0,340.0 L2024.5,339.2 L2026.0,338.4 L2027.5,337.5 L2029.0,336.7 L2030.5,335.9 L2032.0,335.1 L2033.5,334.3 L2035.0,333.5 L2036.5,332.6 L2038.1,331.8 L2039.6,331.0 L2041.1,330.2 L2042.6,329.3 L2044.1,328.5 L2045.6,327.6 L2047.1,326.8 L2048.6,325.9 L2050.1,325.1 L2051.6,324.2 L2053.1,323.4 L2054.6,322.5 L2056.1,321.7 L2057.6,320.8 L2059.1,319.9 L2060.6,319.0 L2062.1,318.2 L2063.6,317.3 L2065.1,316.4 L2066.6,315.5 L2068.1,314.6 L2069.6,313.8 L2071.1,312.9 L2072.6,312.0 L2074.1,311.1 L2075.6,310.2 L2077.1,309.3 L2078.6,308.3 L2080.1,307.4 L2081.6,306.5 L2083.1,305.6 L2084.6,304.7 L2086.1,303.8 L2087.6,302.8 L2089.1,301.9 L2090.6,301.0 L2092.1,300.0 L2093.6,299.1 L2095.1,298.2 L2096.6,297.2 L2098.1,296.3 L2099.6,295.3 L2101.1,294.4 L2102.6,293.4 L2104.1,292.4 L2105.6,291.5 L2107.1,290.5 L2108.6,289.6 L2110.2,288.6 L2111.7,287.6 L2113.2,286.6 L2114.7,285.6 L2116.2,284.7 L2117.7,283.7 L2119.2,282.7 L2120.7,281.7 L2122.2,280.7 L2123.7,279.7 L2125.2,278.7 L2126.7,277.7 L2128.2,276.7 L2129.7,275.7 L2131.2,274.7 L2132.7,273.7 L2134.2,272.6 L2135.7,271.6 L2137.2,270.6 L2138.7,269.6 L2140.2,268.5 L2141.7,267.5 L2143.2,266.5 L2144.7,265.4 L2146.2,264.4 L2147.7,263.3 L2149.2,262.3 L2150.7,261.2 L2152.2,260.2 L2153.7,259.1 L2155.2,258.0 L2156.7,257.0 L2158.2,255.9 L2159.7,254.8 L2161.2,253.8 L2162.7,252.7 L2164.2,251.6 L2165.7,250.5 L2167.2,249.4 L2168.7,248.4 L2170.2,247.3 L2171.7,246.2 L2173.2,245.1 L2174.7,244.0 L2176.2,242.9 L2177.7,241.8 L2179.2,240.7 L2180.7,239.5 L2182.3,238.4 L2183.8,237.3 L2185.3,236.2 L2186.8,235.1 L2188.3,233.9 L2189.8,232.8 L2191.3,231.7 L2192.8,230.5 L2194.3,229.4 L2195.8,228.3 L2197.3,227.1 L2198.8,226.0 L2200.3,224.8 L2201.8,223.7 L2203.3,222.5 L2204.8,221.3 L2206.3,220.2 L2207.8,219.0 L2209.3,217.9 L2210.8,216.7 L2212.3,215.5 L2213.8,214.3 L2215.3,213.1 L2216.8,212.0 L2218.3,210.8 L2219.8,209.6 L2221.3,208.4 L2222.8,207.2 L2224.3,206.0 L2225.8,204.8 L2227.3,203.6 L2228.8,202.4 L2230.3,201.2 L2231.8,200.0 L2233.3,198.7 L2234.8,197.5 L2236.3,196.3 L2237.8,195.1 L2239.3,193.8 L2240.8,192.6 L2242.3,191.4 L2243.8,190.1 L2245.3,188.9 L2246.8,187.7 L2248.3,186.4 L2249.8,185.2 L2251.3,183.9 L2252.8,182.7 L2254.4,181.4 L2255.9,180.1 L2257.4,178.9 L2258.9,177.6 L2260.4,176.3 L2261.9,175.1 L2263.4,173.8 L2264.9,172.5 L2266.4,171.2 L2267.9,169.9 L2269.4,168.7 L2270.9,167.4 L2272.4,166.1 L2273.9,164.8 L2275.4,163.5 L2276.9,162.2 L2278.4,160.9 L2279.9,159.6 L2281.4,158.2 L2282.9,156.9 L2284.4,155.6 L2285.9,154.3 L2287.4,153.0 L2288.9,151.6 L2290.4,150.3 L2291.9,149.0 L2293.4,147.6 L2294.9,146.3 L2296.4,145.0 L2297.9,143.6 L2299.4,142.3 L2300.9,140.9 L2302.4,139.6 L2303.9,138.2 L2305.4,136.8 L2306.9,135.5 L2308.4,134.1 L2309.9,132.7 L2311.4,131.4 L2312.9,130.0 L2314.4,128.6 L2315.9,127.2 L2317.4,125.9 L2318.9,124.5 L2320.4,123.1 L2321.9,121.7 L2323.4,120.3 L2324.9,118.9 L2326.5,117.5 L2328.0,116.1 L2329.5,114.7 L2331.0,113.3 L2332.5,111.9 L2334.0,110.4 L2335.5,109.0 L2337.0,107.6 L2338.5,106.2 L2340.0,104.8 L2341.5,103.3 L2343.0,101.9 L2344.5,100.4 L2346.0,99.0 L2347.5,97.6 L2349.0,96.1 L2350.5,94.7 L2352.0,93.2 L2353.5,91.8 L2355.0,90.3 L2356.5,88.8 L2358.0,87.4 L2359.5,85.9 L2361.0,84.4" stroke="#000" stroke-width="7"/></g>
<g clip-path="url(#cpc)">
<path d="M1643.0,904.9 L1644.5,904.8 L1646.0,904.7 L1647.5,904.6 L1649.0,904.5 L1650.5,904.3 L1652.0,904.2 L1653.5,904.1 L1655.0,904.0 L1656.5,903.9 L1658.0,903.8 L1659.5,903.6 L1661.0,903.5 L1662.5,903.4 L1664.0,903.3 L1665.5,903.2 L1667.0,903.1 L1668.5,902.9 L1670.0,902.8 L1671.5,902.7 L1673.0,902.6 L1674.5,902.5 L1676.0,902.3 L1677.5,902.2 L1679.1,902.1 L1680.6,902.0 L1682.1,901.9 L1683.6,901.7 L1685.1,901.6 L1686.6,901.5 L1688.1,901.4 L1689.6,901.3 L1691.1,901.1 L1692.6,901.0 L1694.1,900.9 L1695.6,900.7 L1697.1,900.6 L1698.6,900.5 L1700.1,900.3 L1701.6,900.2 L1703.1,900.1 L1704.6,899.9 L1706.1,899.8 L1707.6,899.7 L1709.1,899.5 L1710.6,899.4 L1712.1,899.2 L1713.6,899.1 L1715.1,898.9 L1716.6,898.8 L1718.1,898.6 L1719.6,898.5 L1721.1,898.3 L1722.6,898.2 L1724.1,898.0 L1725.6,897.9 L1727.1,897.7 L1728.6,897.5 L1730.1,897.4 L1731.6,897.2 L1733.1,897.0 L1734.6,896.8 L1736.1,896.7 L1737.6,896.5 L1739.1,896.3 L1740.6,896.1 L1742.1,895.9 L1743.6,895.7 L1745.1,895.6 L1746.6,895.4 L1748.1,895.2 L1749.6,895.0 L1751.2,894.8 L1752.7,894.5 L1754.2,894.3 L1755.7,894.1 L1757.2,893.9 L1758.7,893.7 L1760.2,893.5 L1761.7,893.2 L1763.2,893.0 L1764.7,892.8 L1766.2,892.5 L1767.7,892.3 L1769.2,892.0 L1770.7,891.8 L1772.2,891.5 L1773.7,891.3 L1775.2,891.0 L1776.7,890.8 L1778.2,890.5 L1779.7,890.2 L1781.2,890.0 L1782.7,889.7 L1784.2,889.4 L1785.7,889.1 L1787.2,888.8 L1788.7,888.5 L1790.2,888.2 L1791.7,887.9 L1793.2,887.6 L1794.7,887.3 L1796.2,887.0 L1797.7,886.7 L1799.2,886.3 L1800.7,886.0 L1802.2,885.7 L1803.7,885.3 L1805.2,885.0 L1806.7,884.6 L1808.2,884.3 L1809.7,883.9 L1811.2,883.6 L1812.7,883.2 L1814.2,882.8 L1815.7,882.4 L1817.2,882.0 L1818.7,881.6 L1820.2,881.3 L1821.7,880.8 L1823.3,880.4 L1824.8,880.0 L1826.3,879.6 L1827.8,879.2 L1829.3,878.8 L1830.8,878.3 L1832.3,877.9 L1833.8,877.4 L1835.3,877.0 L1836.8,876.5 L1838.3,876.1 L1839.8,875.6 L1841.3,875.1 L1842.8,874.6 L1844.3,874.2 L1845.8,873.7 L1847.3,873.2 L1848.8,872.7 L1850.3,872.2 L1851.8,871.6 L1853.3,871.1 L1854.8,870.6 L1856.3,870.1 L1857.8,869.5 L1859.3,869.0 L1860.8,868.5 L1862.3,867.9 L1863.8,867.4 L1865.3,866.8 L1866.8,866.2 L1868.3,865.7 L1869.8,865.1 L1871.3,864.5 L1872.8,863.9 L1874.3,863.4 L1875.8,862.8 L1877.3,862.2 L1878.8,861.6 L1880.3,861.0 L1881.8,860.4 L1883.3,859.8 L1884.8,859.2 L1886.3,858.5 L1887.8,857.9 L1889.3,857.3 L1890.8,856.7 L1892.3,856.0 L1893.8,855.4 L1895.4,854.8 L1896.9,854.1 L1898.4,853.5 L1899.9,852.8 L1901.4,852.2 L1902.9,851.5 L1904.4,850.9 L1905.9,850.2 L1907.4,849.5 L1908.9,848.9 L1910.4,848.2 L1911.9,847.5 L1913.4,846.8 L1914.9,846.2 L1916.4,845.5 L1917.9,844.8 L1919.4,844.1 L1920.9,843.4 L1922.4,842.7 L1923.9,842.0 L1925.4,841.3 L1926.9,840.6 L1928.4,839.9 L1929.9,839.2 L1931.4,838.5 L1932.9,837.8 L1934.4,837.1 L1935.9,836.4 L1937.4,835.6 L1938.9,834.9 L1940.4,834.2 L1941.9,833.5 L1943.4,832.8 L1944.9,832.0 L1946.4,831.3 L1947.9,830.6 L1949.4,829.9 L1950.9,829.1 L1952.4,828.4 L1953.9,827.7 L1955.4,826.9 L1956.9,826.2 L1958.4,825.5 L1959.9,824.7 L1961.4,824.0 L1962.9,823.2 L1964.4,822.5 L1965.9,821.8 L1967.5,821.0 L1969.0,820.3 L1970.5,819.5 L1972.0,818.8 L1973.5,818.0 L1975.0,817.3 L1976.5,816.5 L1978.0,815.8 L1979.5,815.0 L1981.0,814.3 L1982.5,813.6 L1984.0,812.8 L1985.5,812.1 L1987.0,811.3 L1988.5,810.6 L1990.0,809.8 L1991.5,809.1 L1993.0,808.3 L1994.5,807.6 L1996.0,806.8 L1997.5,806.1 L1999.0,805.3 L2000.5,804.6 L2002.0,803.8 L2003.5,803.1 L2005.0,802.3 L2006.5,801.6 L2008.0,800.8 L2009.5,800.1 L2011.0,799.4 L2012.5,798.6 L2014.0,797.9 L2015.5,797.1 L2017.0,796.3 L2018.5,795.6 L2020.0,794.8 L2021.5,794.1 L2023.0,793.3 L2024.5,792.5 L2026.0,791.8 L2027.5,791.0 L2029.0,790.2 L2030.5,789.4 L2032.0,788.6 L2033.5,787.9 L2035.0,787.1 L2036.5,786.3 L2038.1,785.5 L2039.6,784.6 L2041.1,783.8 L2042.6,783.0 L2044.1,782.2 L2045.6,781.3 L2047.1,780.5 L2048.6,779.7 L2050.1,778.8 L2051.6,777.9 L2053.1,777.1 L2054.6,776.2 L2056.1,775.3 L2057.6,774.4 L2059.1,773.5 L2060.6,772.6 L2062.1,771.7 L2063.6,770.8 L2065.1,769.9 L2066.6,768.9 L2068.1,768.0 L2069.6,767.0 L2071.1,766.1 L2072.6,765.1 L2074.1,764.2 L2075.6,763.2 L2077.1,762.2 L2078.6,761.2 L2080.1,760.2 L2081.6,759.3 L2083.1,758.3 L2084.6,757.3 L2086.1,756.2 L2087.6,755.2 L2089.1,754.2 L2090.6,753.2 L2092.1,752.2 L2093.6,751.1 L2095.1,750.1 L2096.6,749.1 L2098.1,748.0 L2099.6,747.0 L2101.1,745.9 L2102.6,744.9 L2104.1,743.8 L2105.6,742.8 L2107.1,741.7 L2108.6,740.6 L2110.2,739.6 L2111.7,738.5 L2113.2,737.4 L2114.7,736.3 L2116.2,735.3 L2117.7,734.2 L2119.2,733.1 L2120.7,732.0 L2122.2,730.9 L2123.7,729.8 L2125.2,728.7 L2126.7,727.6 L2128.2,726.5 L2129.7,725.4 L2131.2,724.3 L2132.7,723.2 L2134.2,722.1 L2135.7,720.9 L2137.2,719.8 L2138.7,718.7 L2140.2,717.6 L2141.7,716.4 L2143.2,715.3 L2144.7,714.1 L2146.2,713.0 L2147.7,711.9 L2149.2,710.7 L2150.7,709.6 L2152.2,708.4 L2153.7,707.2 L2155.2,706.1 L2156.7,704.9 L2158.2,703.7 L2159.7,702.6 L2161.2,701.4 L2162.7,700.2 L2164.2,699.0 L2165.7,697.8 L2167.2,696.6 L2168.7,695.4 L2170.2,694.2 L2171.7,693.0 L2173.2,691.8 L2174.7,690.6 L2176.2,689.4 L2177.7,688.2 L2179.2,687.0 L2180.7,685.8 L2182.3,684.5 L2183.8,683.3 L2185.3,682.1 L2186.8,680.8 L2188.3,679.6 L2189.8,678.3 L2191.3,677.1 L2192.8,675.8 L2194.3,674.6 L2195.8,673.3 L2197.3,672.1 L2198.8,670.8 L2200.3,669.5 L2201.8,668.2 L2203.3,667.0 L2204.8,665.7 L2206.3,664.4 L2207.8,663.1 L2209.3,661.8 L2210.8,660.5 L2212.3,659.2 L2213.8,657.9 L2215.3,656.6 L2216.8,655.3 L2218.3,653.9 L2219.8,652.6 L2221.3,651.3 L2222.8,650.0 L2224.3,648.6 L2225.8,647.3 L2227.3,645.9 L2228.8,644.6 L2230.3,643.2 L2231.8,641.9 L2233.3,640.5 L2234.8,639.2 L2236.3,637.8 L2237.8,636.5 L2239.3,635.1 L2240.8,633.7 L2242.3,632.4 L2243.8,631.0 L2245.3,629.6 L2246.8,628.2 L2248.3,626.9 L2249.8,625.5 L2251.3,624.1 L2252.8,622.7 L2254.4,621.3 L2255.9,619.9 L2257.4,618.5 L2258.9,617.1 L2260.4,615.7 L2261.9,614.4 L2263.4,613.0 L2264.9,611.6 L2266.4,610.2 L2267.9,608.8 L2269.4,607.4 L2270.9,606.0 L2272.4,604.6 L2273.9,603.1 L2275.4,601.7 L2276.9,600.3 L2278.4,598.9 L2279.9,597.5 L2281.4,596.1 L2282.9,594.7 L2284.4,593.3 L2285.9,591.9 L2287.4,590.5 L2288.9,589.1 L2290.4,587.7 L2291.9,586.3 L2293.4,584.9 L2294.9,583.5 L2296.4,582.1 L2297.9,580.7 L2299.4,579.2 L2300.9,577.8 L2302.4,576.4 L2303.9,575.0 L2305.4,573.6 L2306.9,572.2 L2308.4,570.8 L2309.9,569.4 L2311.4,568.1 L2312.9,566.7 L2314.4,565.3 L2315.9,563.9 L2317.4,562.5 L2318.9,561.1 L2320.4,559.7 L2321.9,558.3 L2323.4,556.9 L2324.9,555.6 L2326.5,554.2 L2328.0,552.8 L2329.5,551.4 L2331.0,550.1 L2332.5,548.7 L2334.0,547.3 L2335.5,546.0 L2337.0,544.6 L2338.5,543.3 L2340.0,541.9 L2341.5,540.6 L2343.0,539.2 L2344.5,537.9 L2346.0,536.6 L2347.5,535.2 L2349.0,533.9 L2350.5,532.6 L2352.0,531.3 L2353.5,530.0 L2355.0,528.7 L2356.5,527.4 L2358.0,526.1 L2359.5,524.8 L2361.0,523.5" stroke="#000000" stroke-width="7"/>
<path d="M1643.0,868.4 L1644.5,868.9 L1646.0,869.4 L1647.5,869.8 L1649.0,870.3 L1650.5,870.8 L1652.0,871.3 L1653.5,871.7 L1655.0,872.2 L1656.5,872.7 L1658.0,873.1 L1659.5,873.6 L1661.0,874.0 L1662.5,874.5 L1664.0,874.9 L1665.5,875.3 L1667.0,875.8 L1668.5,876.2 L1670.0,876.6 L1671.5,877.1 L1673.0,877.5 L1674.5,877.9 L1676.0,878.3 L1677.5,878.7 L1679.1,879.1 L1680.6,879.5 L1682.1,879.9 L1683.6,880.3 L1685.1,880.7 L1686.6,881.1 L1688.1,881.4 L1689.6,881.8 L1691.1,882.2 L1692.6,882.6 L1694.1,882.9 L1695.6,883.3 L1697.1,883.6 L1698.6,884.0 L1700.1,884.3 L1701.6,884.7 L1703.1,885.0 L1704.6,885.4 L1706.1,885.7 L1707.6,886.0 L1709.1,886.4 L1710.6,886.7 L1712.1,887.0 L1713.6,887.3 L1715.1,887.6 L1716.6,887.9 L1718.1,888.2 L1719.6,888.5 L1721.1,888.8 L1722.6,889.1 L1724.1,889.4 L1725.6,889.7 L1727.1,890.0 L1728.6,890.3 L1730.1,890.5 L1731.6,890.8 L1733.1,891.1 L1734.6,891.3 L1736.1,891.6 L1737.6,891.8 L1739.1,892.1 L1740.6,892.3 L1742.1,892.6 L1743.6,892.8 L1745.1,893.1 L1746.6,893.3 L1748.1,893.5 L1749.6,893.8 L1751.2,894.0 L1752.7,894.2 L1754.2,894.4 L1755.7,894.6 L1757.2,894.8 L1758.7,895.0 L1760.2,895.2 L1761.7,895.4 L1763.2,895.6 L1764.7,895.8 L1766.2,896.0 L1767.7,896.2 L1769.2,896.3 L1770.7,896.5 L1772.2,896.7 L1773.7,896.9 L1775.2,897.0 L1776.7,897.2 L1778.2,897.3 L1779.7,897.5 L1781.2,897.6 L1782.7,897.8 L1784.2,897.9 L1785.7,898.1 L1787.2,898.2 L1788.7,898.3 L1790.2,898.4 L1791.7,898.6 L1793.2,898.7 L1794.7,898.8 L1796.2,898.9 L1797.7,899.0 L1799.2,899.1 L1800.7,899.2 L1802.2,899.3 L1803.7,899.4 L1805.2,899.5 L1806.7,899.6 L1808.2,899.7 L1809.7,899.7 L1811.2,899.8 L1812.7,899.9 L1814.2,900.0 L1815.7,900.0 L1817.2,900.1 L1818.7,900.1 L1820.2,900.2 L1821.7,900.2 L1823.3,900.3 L1824.8,900.3 L1826.3,900.4 L1827.8,900.4 L1829.3,900.4 L1830.8,900.5 L1832.3,900.5 L1833.8,900.5 L1835.3,900.5 L1836.8,900.5 L1838.3,900.5 L1839.8,900.6 L1841.3,900.6 L1842.8,900.6 L1844.3,900.6 L1845.8,900.5 L1847.3,900.5 L1848.8,900.5 L1850.3,900.5 L1851.8,900.5 L1853.3,900.5 L1854.8,900.4 L1856.3,900.4 L1857.8,900.4 L1859.3,900.3 L1860.8,900.3 L1862.3,900.2 L1863.8,900.2 L1865.3,900.1 L1866.8,900.1 L1868.3,900.0 L1869.8,899.9 L1871.3,899.9 L1872.8,899.8 L1874.3,899.7 L1875.8,899.6 L1877.3,899.6 L1878.8,899.5 L1880.3,899.4 L1881.8,899.3 L1883.3,899.2 L1884.8,899.1 L1886.3,899.0 L1887.8,898.9 L1889.3,898.8 L1890.8,898.7 L1892.3,898.5 L1893.8,898.4 L1895.4,898.3 L1896.9,898.2 L1898.4,898.0 L1899.9,897.9 L1901.4,897.8 L1902.9,897.6 L1904.4,897.5 L1905.9,897.3 L1907.4,897.2 L1908.9,897.0 L1910.4,896.9 L1911.9,896.7 L1913.4,896.5 L1914.9,896.4 L1916.4,896.2 L1917.9,896.0 L1919.4,895.8 L1920.9,895.7 L1922.4,895.5 L1923.9,895.3 L1925.4,895.1 L1926.9,894.9 L1928.4,894.7 L1929.9,894.5 L1931.4,894.3 L1932.9,894.1 L1934.4,893.9 L1935.9,893.6 L1937.4,893.4 L1938.9,893.2 L1940.4,893.0 L1941.9,892.7 L1943.4,892.5 L1944.9,892.3 L1946.4,892.0 L1947.9,891.8 L1949.4,891.5 L1950.9,891.3 L1952.4,891.0 L1953.9,890.8 L1955.4,890.5 L1956.9,890.2 L1958.4,890.0 L1959.9,889.7 L1961.4,889.4 L1962.9,889.1 L1964.4,888.9 L1965.9,888.6 L1967.5,888.3 L1969.0,888.0 L1970.5,887.7 L1972.0,887.4 L1973.5,887.1 L1975.0,886.8 L1976.5,886.5 L1978.0,886.2 L1979.5,885.9 L1981.0,885.5 L1982.5,885.2 L1984.0,884.9 L1985.5,884.6 L1987.0,884.2 L1988.5,883.9 L1990.0,883.6 L1991.5,883.2 L1993.0,882.9 L1994.5,882.5 L1996.0,882.2 L1997.5,881.8 L1999.0,881.5 L2000.5,881.1 L2002.0,880.7 L2003.5,880.4 L2005.0,880.0 L2006.5,879.6 L2008.0,879.2 L2009.5,878.9 L2011.0,878.5 L2012.5,878.1 L2014.0,877.7 L2015.5,877.3 L2017.0,876.9 L2018.5,876.5 L2020.0,876.1 L2021.5,875.7 L2023.0,875.3 L2024.5,874.9 L2026.0,874.4 L2027.5,874.0 L2029.0,873.6 L2030.5,873.2 L2032.0,872.7 L2033.5,872.3 L2035.0,871.9 L2036.5,871.4 L2038.1,871.0 L2039.6,870.5 L2041.1,870.1 L2042.6,869.6 L2044.1,869.2 L2045.6,868.7 L2047.1,868.2 L2048.6,867.8 L2050.1,867.3 L2051.6,866.8 L2053.1,866.4 L2054.6,865.9 L2056.1,865.4 L2057.6,864.9 L2059.1,864.4 L2060.6,863.9 L2062.1,863.4 L2063.6,862.9 L2065.1,862.4 L2066.6,861.9 L2068.1,861.4 L2069.6,860.9 L2071.1,860.4 L2072.6,859.9 L2074.1,859.4 L2075.6,858.8 L2077.1,858.3 L2078.6,857.8 L2080.1,857.3 L2081.6,856.7 L2083.1,856.2 L2084.6,855.6 L2086.1,855.1 L2087.6,854.5 L2089.1,854.0 L2090.6,853.4 L2092.1,852.9 L2093.6,852.3 L2095.1,851.8 L2096.6,851.2 L2098.1,850.6 L2099.6,850.1 L2101.1,849.5 L2102.6,848.9 L2104.1,848.3 L2105.6,847.7 L2107.1,847.2 L2108.6,846.6 L2110.2,846.0 L2111.7,845.4 L2113.2,844.8 L2114.7,844.2 L2116.2,843.6 L2117.7,843.0 L2119.2,842.3 L2120.7,841.7 L2122.2,841.1 L2123.7,840.5 L2125.2,839.9 L2126.7,839.2 L2128.2,838.6 L2129.7,838.0 L2131.2,837.3 L2132.7,836.7 L2134.2,836.1 L2135.7,835.4 L2137.2,834.8 L2138.7,834.1 L2140.2,833.5 L2141.7,832.8 L2143.2,832.2 L2144.7,831.5 L2146.2,830.8 L2147.7,830.2 L2149.2,829.5 L2150.7,828.8 L2152.2,828.1 L2153.7,827.5 L2155.2,826.8 L2156.7,826.1 L2158.2,825.4 L2159.7,824.7 L2161.2,824.0 L2162.7,823.3 L2164.2,822.6 L2165.7,821.9 L2167.2,821.2 L2168.7,820.5 L2170.2,819.8 L2171.7,819.1 L2173.2,818.4 L2174.7,817.7 L2176.2,816.9 L2177.7,816.2 L2179.2,815.5 L2180.7,814.7 L2182.3,814.0 L2183.8,813.3 L2185.3,812.5 L2186.8,811.8 L2188.3,811.1 L2189.8,810.3 L2191.3,809.6 L2192.8,808.8 L2194.3,808.0 L2195.8,807.3 L2197.3,806.5 L2198.8,805.8 L2200.3,805.0 L2201.8,804.2 L2203.3,803.4 L2204.8,802.7 L2206.3,801.9 L2207.8,801.1 L2209.3,800.3 L2210.8,799.5 L2212.3,798.8 L2213.8,798.0 L2215.3,797.2 L2216.8,796.4 L2218.3,795.6 L2219.8,794.8 L2221.3,794.0 L2222.8,793.2 L2224.3,792.3 L2225.8,791.5 L2227.3,790.7 L2228.8,789.9 L2230.3,789.1 L2231.8,788.2 L2233.3,787.4 L2234.8,786.6 L2236.3,785.8 L2237.8,784.9 L2239.3,784.1 L2240.8,783.2 L2242.3,782.4 L2243.8,781.6 L2245.3,780.7 L2246.8,779.9 L2248.3,779.0 L2249.8,778.1 L2251.3,777.3 L2252.8,776.4 L2254.4,775.6 L2255.9,774.7 L2257.4,773.8 L2258.9,773.0 L2260.4,772.1 L2261.9,771.2 L2263.4,770.3 L2264.9,769.4 L2266.4,768.6 L2267.9,767.7 L2269.4,766.8 L2270.9,765.9 L2272.4,765.0 L2273.9,764.1 L2275.4,763.2 L2276.9,762.3 L2278.4,761.4 L2279.9,760.5 L2281.4,759.6 L2282.9,758.6 L2284.4,757.7 L2285.9,756.8 L2287.4,755.9 L2288.9,755.0 L2290.4,754.0 L2291.9,753.1 L2293.4,752.2 L2294.9,751.2 L2296.4,750.3 L2297.9,749.4 L2299.4,748.4 L2300.9,747.5 L2302.4,746.5 L2303.9,745.6 L2305.4,744.6 L2306.9,743.7 L2308.4,742.7 L2309.9,741.8 L2311.4,740.8 L2312.9,739.8 L2314.4,738.9 L2315.9,737.9 L2317.4,736.9 L2318.9,736.0 L2320.4,735.0 L2321.9,734.0 L2323.4,733.0 L2324.9,732.1 L2326.5,731.1 L2328.0,730.1 L2329.5,729.1 L2331.0,728.1 L2332.5,727.1 L2334.0,726.1 L2335.5,725.1 L2337.0,724.1 L2338.5,723.1 L2340.0,722.1 L2341.5,721.1 L2343.0,720.1 L2344.5,719.0 L2346.0,718.0 L2347.5,717.0 L2349.0,716.0 L2350.5,715.0 L2352.0,713.9 L2353.5,712.9 L2355.0,711.9 L2356.5,710.8 L2358.0,709.8 L2359.5,708.8 L2361.0,707.7" stroke="#FF0000" stroke-width="7"/>
<path d="M1643.0,757.4 L1644.5,758.4 L1646.0,759.3 L1647.5,760.2 L1649.0,761.2 L1650.5,762.1 L1652.0,763.0 L1653.5,763.9 L1655.0,764.8 L1656.5,765.7 L1658.0,766.7 L1659.5,767.6 L1661.0,768.5 L1662.5,769.4 L1664.0,770.2 L1665.5,771.1 L1667.0,772.0 L1668.5,772.9 L1670.0,773.8 L1671.5,774.7 L1673.0,775.5 L1674.5,776.4 L1676.0,777.3 L1677.5,778.1 L1679.1,779.0 L1680.6,779.8 L1682.1,780.7 L1683.6,781.6 L1685.1,782.4 L1686.6,783.2 L1688.1,784.1 L1689.6,784.9 L1691.1,785.7 L1692.6,786.6 L1694.1,787.4 L1695.6,788.2 L1697.1,789.0 L1698.6,789.9 L1700.1,790.7 L1701.6,791.5 L1703.1,792.3 L1704.6,793.1 L1706.1,793.9 L1707.6,794.7 L1709.1,795.5 L1710.6,796.2 L1712.1,797.0 L1713.6,797.8 L1715.1,798.6 L1716.6,799.4 L1718.1,800.1 L1719.6,800.9 L1721.1,801.7 L1722.6,802.4 L1724.1,803.2 L1725.6,803.9 L1727.1,804.7 L1728.6,805.4 L1730.1,806.2 L1731.6,806.9 L1733.1,807.6 L1734.6,808.4 L1736.1,809.1 L1737.6,809.8 L1739.1,810.5 L1740.6,811.3 L1742.1,812.0 L1743.6,812.7 L1745.1,813.4 L1746.6,814.1 L1748.1,814.8 L1749.6,815.5 L1751.2,816.2 L1752.7,816.9 L1754.2,817.6 L1755.7,818.2 L1757.2,818.9 L1758.7,819.6 L1760.2,820.3 L1761.7,820.9 L1763.2,821.6 L1764.7,822.3 L1766.2,822.9 L1767.7,823.6 L1769.2,824.2 L1770.7,824.9 L1772.2,825.5 L1773.7,826.2 L1775.2,826.8 L1776.7,827.4 L1778.2,828.1 L1779.7,828.7 L1781.2,829.3 L1782.7,829.9 L1784.2,830.6 L1785.7,831.2 L1787.2,831.8 L1788.7,832.4 L1790.2,833.0 L1791.7,833.6 L1793.2,834.2 L1794.7,834.8 L1796.2,835.4 L1797.7,836.0 L1799.2,836.5 L1800.7,837.1 L1802.2,837.7 L1803.7,838.3 L1805.2,838.8 L1806.7,839.4 L1808.2,840.0 L1809.7,840.5 L1811.2,841.1 L1812.7,841.6 L1814.2,842.2 L1815.7,842.7 L1817.2,843.2 L1818.7,843.8 L1820.2,844.3 L1821.7,844.8 L1823.3,845.4 L1824.8,845.9 L1826.3,846.4 L1827.8,846.9 L1829.3,847.4 L1830.8,847.9 L1832.3,848.4 L1833.8,848.9 L1835.3,849.4 L1836.8,849.9 L1838.3,850.4 L1839.8,850.9 L1841.3,851.4 L1842.8,851.9 L1844.3,852.3 L1845.8,852.8 L1847.3,853.3 L1848.8,853.8 L1850.3,854.2 L1851.8,854.7 L1853.3,855.1 L1854.8,855.6 L1856.3,856.0 L1857.8,856.5 L1859.3,856.9 L1860.8,857.3 L1862.3,857.8 L1863.8,858.2 L1865.3,858.6 L1866.8,859.1 L1868.3,859.5 L1869.8,859.9 L1871.3,860.3 L1872.8,860.7 L1874.3,861.1 L1875.8,861.5 L1877.3,861.9 L1878.8,862.3 L1880.3,862.7 L1881.8,863.1 L1883.3,863.5 L1884.8,863.9 L1886.3,864.2 L1887.8,864.6 L1889.3,865.0 L1890.8,865.3 L1892.3,865.7 L1893.8,866.1 L1895.4,866.4 L1896.9,866.8 L1898.4,867.1 L1899.9,867.5 L1901.4,867.8 L1902.9,868.1 L1904.4,868.5 L1905.9,868.8 L1907.4,869.1 L1908.9,869.4 L1910.4,869.8 L1911.9,870.1 L1913.4,870.4 L1914.9,870.7 L1916.4,871.0 L1917.9,871.3 L1919.4,871.6 L1920.9,871.9 L1922.4,872.2 L1923.9,872.5 L1925.4,872.8 L1926.9,873.0 L1928.4,873.3 L1929.9,873.6 L1931.4,873.9 L1932.9,874.1 L1934.4,874.4 L1935.9,874.6 L1937.4,874.9 L1938.9,875.1 L1940.4,875.4 L1941.9,875.6 L1943.4,875.9 L1944.9,876.1 L1946.4,876.3 L1947.9,876.6 L1949.4,876.8 L1950.9,877.0 L1952.4,877.2 L1953.9,877.4 L1955.4,877.7 L1956.9,877.9 L1958.4,878.1 L1959.9,878.3 L1961.4,878.5 L1962.9,878.7 L1964.4,878.8 L1965.9,879.0 L1967.5,879.2 L1969.0,879.4 L1970.5,879.6 L1972.0,879.7 L1973.5,879.9 L1975.0,880.1 L1976.5,880.2 L1978.0,880.4 L1979.5,880.5 L1981.0,880.7 L1982.5,880.8 L1984.0,881.0 L1985.5,881.1 L1987.0,881.2 L1988.5,881.4 L1990.0,881.5 L1991.5,881.6 L1993.0,881.7 L1994.5,881.9 L1996.0,882.0 L1997.5,882.1 L1999.0,882.2 L2000.5,882.3 L2002.0,882.4 L2003.5,882.5 L2005.0,882.6 L2006.5,882.7 L2008.0,882.7 L2009.5,882.8 L2011.0,882.9 L2012.5,883.0 L2014.0,883.0 L2015.5,883.1 L2017.0,883.2 L2018.5,883.2 L2020.0,883.3 L2021.5,883.3 L2023.0,883.4 L2024.5,883.4 L2026.0,883.5 L2027.5,883.5 L2029.0,883.5 L2030.5,883.6 L2032.0,883.6 L2033.5,883.6 L2035.0,883.6 L2036.5,883.6 L2038.1,883.6 L2039.6,883.7 L2041.1,883.7 L2042.6,883.7 L2044.1,883.7 L2045.6,883.7 L2047.1,883.6 L2048.6,883.6 L2050.1,883.6 L2051.6,883.6 L2053.1,883.6 L2054.6,883.5 L2056.1,883.5 L2057.6,883.5 L2059.1,883.4 L2060.6,883.4 L2062.1,883.4 L2063.6,883.3 L2065.1,883.3 L2066.6,883.2 L2068.1,883.2 L2069.6,883.1 L2071.1,883.0 L2072.6,883.0 L2074.1,882.9 L2075.6,882.8 L2077.1,882.7 L2078.6,882.7 L2080.1,882.6 L2081.6,882.5 L2083.1,882.4 L2084.6,882.3 L2086.1,882.2 L2087.6,882.1 L2089.1,882.0 L2090.6,881.9 L2092.1,881.8 L2093.6,881.7 L2095.1,881.6 L2096.6,881.4 L2098.1,881.3 L2099.6,881.2 L2101.1,881.1 L2102.6,880.9 L2104.1,880.8 L2105.6,880.6 L2107.1,880.5 L2108.6,880.3 L2110.2,880.2 L2111.7,880.0 L2113.2,879.9 L2114.7,879.7 L2116.2,879.6 L2117.7,879.4 L2119.2,879.2 L2120.7,879.1 L2122.2,878.9 L2123.7,878.7 L2125.2,878.5 L2126.7,878.3 L2128.2,878.1 L2129.7,878.0 L2131.2,877.8 L2132.7,877.6 L2134.2,877.4 L2135.7,877.2 L2137.2,877.0 L2138.7,876.7 L2140.2,876.5 L2141.7,876.3 L2143.2,876.1 L2144.7,875.9 L2146.2,875.6 L2147.7,875.4 L2149.2,875.2 L2150.7,874.9 L2152.2,874.7 L2153.7,874.5 L2155.2,874.2 L2156.7,874.0 L2158.2,873.7 L2159.7,873.5 L2161.2,873.2 L2162.7,873.0 L2164.2,872.7 L2165.7,872.4 L2167.2,872.2 L2168.7,871.9 L2170.2,871.6 L2171.7,871.3 L2173.2,871.1 L2174.7,870.8 L2176.2,870.5 L2177.7,870.2 L2179.2,869.9 L2180.7,869.6 L2182.3,869.3 L2183.8,869.0 L2185.3,868.7 L2186.8,868.4 L2188.3,868.1 L2189.8,867.8 L2191.3,867.5 L2192.8,867.1 L2194.3,866.8 L2195.8,866.5 L2197.3,866.2 L2198.8,865.8 L2200.3,865.5 L2201.8,865.2 L2203.3,864.8 L2204.8,864.5 L2206.3,864.1 L2207.8,863.8 L2209.3,863.4 L2210.8,863.1 L2212.3,862.7 L2213.8,862.4 L2215.3,862.0 L2216.8,861.6 L2218.3,861.3 L2219.8,860.9 L2221.3,860.5 L2222.8,860.2 L2224.3,859.8 L2225.8,859.4 L2227.3,859.0 L2228.8,858.6 L2230.3,858.2 L2231.8,857.8 L2233.3,857.5 L2234.8,857.1 L2236.3,856.7 L2237.8,856.2 L2239.3,855.8 L2240.8,855.4 L2242.3,855.0 L2243.8,854.6 L2245.3,854.2 L2246.8,853.8 L2248.3,853.3 L2249.8,852.9 L2251.3,852.5 L2252.8,852.1 L2254.4,851.6 L2255.9,851.2 L2257.4,850.8 L2258.9,850.3 L2260.4,849.9 L2261.9,849.4 L2263.4,849.0 L2264.9,848.5 L2266.4,848.1 L2267.9,847.6 L2269.4,847.2 L2270.9,846.7 L2272.4,846.2 L2273.9,845.8 L2275.4,845.3 L2276.9,844.8 L2278.4,844.3 L2279.9,843.9 L2281.4,843.4 L2282.9,842.9 L2284.4,842.4 L2285.9,841.9 L2287.4,841.4 L2288.9,840.9 L2290.4,840.4 L2291.9,839.9 L2293.4,839.4 L2294.9,838.9 L2296.4,838.4 L2297.9,837.9 L2299.4,837.4 L2300.9,836.9 L2302.4,836.4 L2303.9,835.9 L2305.4,835.4 L2306.9,834.8 L2308.4,834.3 L2309.9,833.8 L2311.4,833.2 L2312.9,832.7 L2314.4,832.2 L2315.9,831.6 L2317.4,831.1 L2318.9,830.6 L2320.4,830.0 L2321.9,829.5 L2323.4,828.9 L2324.9,828.4 L2326.5,827.8 L2328.0,827.2 L2329.5,826.7 L2331.0,826.1 L2332.5,825.6 L2334.0,825.0 L2335.5,824.4 L2337.0,823.9 L2338.5,823.3 L2340.0,822.7 L2341.5,822.1 L2343.0,821.5 L2344.5,821.0 L2346.0,820.4 L2347.5,819.8 L2349.0,819.2 L2350.5,818.6 L2352.0,818.0 L2353.5,817.4 L2355.0,816.8 L2356.5,816.2 L2358.0,815.6 L2359.5,815.0 L2361.0,814.4" stroke="#0000FF" stroke-width="7"/>
<path d="M1643.0,579.6 L1644.5,581.0 L1646.0,582.4 L1647.5,583.8 L1649.0,585.2 L1650.5,586.7 L1652.0,588.1 L1653.5,589.5 L1655.0,590.9 L1656.5,592.3 L1658.0,593.7 L1659.5,595.1 L1661.0,596.4 L1662.5,597.8 L1664.0,599.2 L1665.5,600.6 L1667.0,602.0 L1668.5,603.3 L1670.0,604.7 L1671.5,606.0 L1673.0,607.4 L1674.5,608.8 L1676.0,610.1 L1677.5,611.5 L1679.1,612.8 L1680.6,614.1 L1682.1,615.5 L1683.6,616.8 L1685.1,618.1 L1686.6,619.5 L1688.1,620.8 L1689.6,622.1 L1691.1,623.4 L1692.6,624.7 L1694.1,626.0 L1695.6,627.3 L1697.1,628.6 L1698.6,629.9 L1700.1,631.2 L1701.6,632.5 L1703.1,633.8 L1704.6,635.1 L1706.1,636.3 L1707.6,637.6 L1709.1,638.9 L1710.6,640.2 L1712.1,641.4 L1713.6,642.7 L1715.1,643.9 L1716.6,645.2 L1718.1,646.4 L1719.6,647.7 L1721.1,648.9 L1722.6,650.2 L1724.1,651.4 L1725.6,652.6 L1727.1,653.8 L1728.6,655.1 L1730.1,656.3 L1731.6,657.5 L1733.1,658.7 L1734.6,659.9 L1736.1,661.1 L1737.6,662.3 L1739.1,663.5 L1740.6,664.7 L1742.1,665.9 L1743.6,667.1 L1745.1,668.3 L1746.6,669.4 L1748.1,670.6 L1749.6,671.8 L1751.2,673.0 L1752.7,674.1 L1754.2,675.3 L1755.7,676.4 L1757.2,677.6 L1758.7,678.7 L1760.2,679.9 L1761.7,681.0 L1763.2,682.2 L1764.7,683.3 L1766.2,684.4 L1767.7,685.6 L1769.2,686.7 L1770.7,687.8 L1772.2,688.9 L1773.7,690.0 L1775.2,691.1 L1776.7,692.2 L1778.2,693.3 L1779.7,694.4 L1781.2,695.5 L1782.7,696.6 L1784.2,697.7 L1785.7,698.8 L1787.2,699.9 L1788.7,701.0 L1790.2,702.0 L1791.7,703.1 L1793.2,704.2 L1794.7,705.2 L1796.2,706.3 L1797.7,707.3 L1799.2,708.4 L1800.7,709.4 L1802.2,710.5 L1803.7,711.5 L1805.2,712.6 L1806.7,713.6 L1808.2,714.6 L1809.7,715.6 L1811.2,716.7 L1812.7,717.7 L1814.2,718.7 L1815.7,719.7 L1817.2,720.7 L1818.7,721.7 L1820.2,722.7 L1821.7,723.7 L1823.3,724.7 L1824.8,725.7 L1826.3,726.7 L1827.8,727.7 L1829.3,728.6 L1830.8,729.6 L1832.3,730.6 L1833.8,731.6 L1835.3,732.5 L1836.8,733.5 L1838.3,734.4 L1839.8,735.4 L1841.3,736.3 L1842.8,737.3 L1844.3,738.2 L1845.8,739.2 L1847.3,740.1 L1848.8,741.0 L1850.3,742.0 L1851.8,742.9 L1853.3,743.8 L1854.8,744.7 L1856.3,745.6 L1857.8,746.6 L1859.3,747.5 L1860.8,748.4 L1862.3,749.3 L1863.8,750.2 L1865.3,751.0 L1866.8,751.9 L1868.3,752.8 L1869.8,753.7 L1871.3,754.6 L1872.8,755.5 L1874.3,756.3 L1875.8,757.2 L1877.3,758.1 L1878.8,758.9 L1880.3,759.8 L1881.8,760.6 L1883.3,761.5 L1884.8,762.3 L1886.3,763.2 L1887.8,764.0 L1889.3,764.8 L1890.8,765.7 L1892.3,766.5 L1893.8,767.3 L1895.4,768.1 L1896.9,768.9 L1898.4,769.8 L1899.9,770.6 L1901.4,771.4 L1902.9,772.2 L1904.4,773.0 L1905.9,773.8 L1907.4,774.6 L1908.9,775.3 L1910.4,776.1 L1911.9,776.9 L1913.4,777.7 L1914.9,778.5 L1916.4,779.2 L1917.9,780.0 L1919.4,780.8 L1920.9,781.5 L1922.4,782.3 L1923.9,783.0 L1925.4,783.8 L1926.9,784.5 L1928.4,785.3 L1929.9,786.0 L1931.4,786.7 L1932.9,787.5 L1934.4,788.2 L1935.9,788.9 L1937.4,789.6 L1938.9,790.3 L1940.4,791.1 L1941.9,791.8 L1943.4,792.5 L1944.9,793.2 L1946.4,793.9 L1947.9,794.6 L1949.4,795.3 L1950.9,795.9 L1952.4,796.6 L1953.9,797.3 L1955.4,798.0 L1956.9,798.7 L1958.4,799.3 L1959.9,800.0 L1961.4,800.7 L1962.9,801.3 L1964.4,802.0 L1965.9,802.6 L1967.5,803.3 L1969.0,803.9 L1970.5,804.6 L1972.0,805.2 L1973.5,805.8 L1975.0,806.5 L1976.5,807.1 L1978.0,807.7 L1979.5,808.3 L1981.0,808.9 L1982.5,809.6 L1984.0,810.2 L1985.5,810.8 L1987.0,811.4 L1988.5,812.0 L1990.0,812.6 L1991.5,813.2 L1993.0,813.7 L1994.5,814.3 L1996.0,814.9 L1997.5,815.5 L1999.0,816.1 L2000.5,816.6 L2002.0,817.2 L2003.5,817.8 L2005.0,818.3 L2006.5,818.9 L2008.0,819.4 L2009.5,820.0 L2011.0,820.5 L2012.5,821.1 L2014.0,821.6 L2015.5,822.1 L2017.0,822.7 L2018.5,823.2 L2020.0,823.7 L2021.5,824.2 L2023.0,824.8 L2024.5,825.3 L2026.0,825.8 L2027.5,826.3 L2029.0,826.8 L2030.5,827.3 L2032.0,827.8 L2033.5,828.3 L2035.0,828.8 L2036.5,829.2 L2038.1,829.7 L2039.6,830.2 L2041.1,830.7 L2042.6,831.2 L2044.1,831.6 L2045.6,832.1 L2047.1,832.5 L2048.6,833.0 L2050.1,833.5 L2051.6,833.9 L2053.1,834.3 L2054.6,834.8 L2056.1,835.2 L2057.6,835.7 L2059.1,836.1 L2060.6,836.5 L2062.1,836.9 L2063.6,837.4 L2065.1,837.8 L2066.6,838.2 L2068.1,838.6 L2069.6,839.0 L2071.1,839.4 L2072.6,839.8 L2074.1,840.2 L2075.6,840.6 L2077.1,841.0 L2078.6,841.4 L2080.1,841.8 L2081.6,842.1 L2083.1,842.5 L2084.6,842.9 L2086.1,843.3 L2087.6,843.6 L2089.1,844.0 L2090.6,844.3 L2092.1,844.7 L2093.6,845.1 L2095.1,845.4 L2096.6,845.7 L2098.1,846.1 L2099.6,846.4 L2101.1,846.8 L2102.6,847.1 L2104.1,847.4 L2105.6,847.7 L2107.1,848.1 L2108.6,848.4 L2110.2,848.7 L2111.7,849.0 L2113.2,849.3 L2114.7,849.6 L2116.2,849.9 L2117.7,850.2 L2119.2,850.5 L2120.7,850.8 L2122.2,851.0 L2123.7,851.3 L2125.2,851.6 L2126.7,851.9 L2128.2,852.2 L2129.7,852.4 L2131.2,852.7 L2132.7,852.9 L2134.2,853.2 L2135.7,853.4 L2137.2,853.7 L2138.7,853.9 L2140.2,854.2 L2141.7,854.4 L2143.2,854.7 L2144.7,854.9 L2146.2,855.1 L2147.7,855.3 L2149.2,855.6 L2150.7,855.8 L2152.2,856.0 L2153.7,856.2 L2155.2,856.4 L2156.7,856.6 L2158.2,856.8 L2159.7,857.0 L2161.2,857.2 L2162.7,857.4 L2164.2,857.6 L2165.7,857.8 L2167.2,857.9 L2168.7,858.1 L2170.2,858.3 L2171.7,858.5 L2173.2,858.6 L2174.7,858.8 L2176.2,858.9 L2177.7,859.1 L2179.2,859.2 L2180.7,859.4 L2182.3,859.5 L2183.8,859.7 L2185.3,859.8 L2186.8,860.0 L2188.3,860.1 L2189.8,860.2 L2191.3,860.3 L2192.8,860.5 L2194.3,860.6 L2195.8,860.7 L2197.3,860.8 L2198.8,860.9 L2200.3,861.0 L2201.8,861.1 L2203.3,861.2 L2204.8,861.3 L2206.3,861.4 L2207.8,861.5 L2209.3,861.5 L2210.8,861.6 L2212.3,861.7 L2213.8,861.8 L2215.3,861.8 L2216.8,861.9 L2218.3,862.0 L2219.8,862.0 L2221.3,862.1 L2222.8,862.1 L2224.3,862.2 L2225.8,862.2 L2227.3,862.2 L2228.8,862.3 L2230.3,862.3 L2231.8,862.3 L2233.3,862.4 L2234.8,862.4 L2236.3,862.4 L2237.8,862.4 L2239.3,862.4 L2240.8,862.5 L2242.3,862.5 L2243.8,862.5 L2245.3,862.5 L2246.8,862.5 L2248.3,862.4 L2249.8,862.4 L2251.3,862.4 L2252.8,862.4 L2254.4,862.4 L2255.9,862.3 L2257.4,862.3 L2258.9,862.3 L2260.4,862.3 L2261.9,862.2 L2263.4,862.2 L2264.9,862.1 L2266.4,862.1 L2267.9,862.0 L2269.4,862.0 L2270.9,861.9 L2272.4,861.8 L2273.9,861.8 L2275.4,861.7 L2276.9,861.6 L2278.4,861.5 L2279.9,861.5 L2281.4,861.4 L2282.9,861.3 L2284.4,861.2 L2285.9,861.1 L2287.4,861.0 L2288.9,860.9 L2290.4,860.8 L2291.9,860.7 L2293.4,860.6 L2294.9,860.5 L2296.4,860.3 L2297.9,860.2 L2299.4,860.1 L2300.9,860.0 L2302.4,859.8 L2303.9,859.7 L2305.4,859.6 L2306.9,859.4 L2308.4,859.3 L2309.9,859.1 L2311.4,859.0 L2312.9,858.8 L2314.4,858.7 L2315.9,858.5 L2317.4,858.3 L2318.9,858.2 L2320.4,858.0 L2321.9,857.8 L2323.4,857.6 L2324.9,857.4 L2326.5,857.2 L2328.0,857.1 L2329.5,856.9 L2331.0,856.7 L2332.5,856.5 L2334.0,856.3 L2335.5,856.0 L2337.0,855.8 L2338.5,855.6 L2340.0,855.4 L2341.5,855.2 L2343.0,855.0 L2344.5,854.7 L2346.0,854.5 L2347.5,854.3 L2349.0,854.0 L2350.5,853.8 L2352.0,853.5 L2353.5,853.3 L2355.0,853.0 L2356.5,852.8 L2358.0,852.5 L2359.5,852.3 L2361.0,852.0" stroke="#FF00FF" stroke-width="7"/>
</g>
<g clip-path="url(#cpd)">
<path d="M1643.0,1169.8 L1644.5,1169.7 L1646.0,1169.7 L1647.5,1169.7 L1649.0,1169.6 L1650.5,1169.6 L1652.0,1169.5 L1653.5,1169.5 L1655.0,1169.4 L1656.5,1169.4 L1658.0,1169.3 L1659.5,1169.3 L1661.0,1169.2 L1662.5,1169.2 L1664.0,1169.1 L1665.5,1169.1 L1667.0,1169.0 L1668.5,1169.0 L1670.0,1168.9 L1671.5,1168.9 L1673.0,1168.8 L1674.5,1168.8 L1676.0,1168.7 L1677.5,1168.7 L1679.1,1168.6 L1680.6,1168.6 L1682.1,1168.5 L1683.6,1168.5 L1685.1,1168.4 L1686.6,1168.3 L1688.1,1168.3 L1689.6,1168.2 L1691.1,1168.2 L1692.6,1168.1 L1694.1,1168.0 L1695.6,1168.0 L1697.1,1167.9 L1698.6,1167.8 L1700.1,1167.8 L1701.6,1167.7 L1703.1,1167.7 L1704.6,1167.6 L1706.1,1167.5 L1707.6,1167.4 L1709.1,1167.4 L1710.6,1167.3 L1712.1,1167.2 L1713.6,1167.2 L1715.1,1167.1 L1716.6,1167.0 L1718.1,1166.9 L1719.6,1166.9 L1721.1,1166.8 L1722.6,1166.7 L1724.1,1166.6 L1725.6,1166.6 L1727.1,1166.5 L1728.6,1166.4 L1730.1,1166.3 L1731.6,1166.2 L1733.1,1166.1 L1734.6,1166.1 L1736.1,1166.0 L1737.6,1165.9 L1739.1,1165.8 L1740.6,1165.7 L1742.1,1165.6 L1743.6,1165.5 L1745.1,1165.4 L1746.6,1165.3 L1748.1,1165.2 L1749.6,1165.1 L1751.2,1165.0 L1752.7,1164.9 L1754.2,1164.8 L1755.7,1164.7 L1757.2,1164.6 L1758.7,1164.5 L1760.2,1164.4 L1761.7,1164.3 L1763.2,1164.2 L1764.7,1164.1 L1766.2,1164.0 L1767.7,1163.9 L1769.2,1163.8 L1770.7,1163.7 L1772.2,1163.6 L1773.7,1163.5 L1775.2,1163.3 L1776.7,1163.2 L1778.2,1163.1 L1779.7,1163.0 L1781.2,1162.9 L1782.7,1162.7 L1784.2,1162.6 L1785.7,1162.5 L1787.2,1162.4 L1788.7,1162.2 L1790.2,1162.1 L1791.7,1162.0 L1793.2,1161.8 L1794.7,1161.7 L1796.2,1161.6 L1797.7,1161.4 L1799.2,1161.3 L1800.7,1161.2 L1802.2,1161.0 L1803.7,1160.9 L1805.2,1160.7 L1806.7,1160.6 L1808.2,1160.4 L1809.7,1160.3 L1811.2,1160.1 L1812.7,1160.0 L1814.2,1159.8 L1815.7,1159.7 L1817.2,1159.5 L1818.7,1159.4 L1820.2,1159.2 L1821.7,1159.1 L1823.3,1158.9 L1824.8,1158.7 L1826.3,1158.6 L1827.8,1158.4 L1829.3,1158.2 L1830.8,1158.1 L1832.3,1157.9 L1833.8,1157.7 L1835.3,1157.5 L1836.8,1157.4 L1838.3,1157.2 L1839.8,1157.0 L1841.3,1156.8 L1842.8,1156.6 L1844.3,1156.5 L1845.8,1156.3 L1847.3,1156.1 L1848.8,1155.9 L1850.3,1155.7 L1851.8,1155.5 L1853.3,1155.3 L1854.8,1155.1 L1856.3,1154.9 L1857.8,1154.7 L1859.3,1154.5 L1860.8,1154.3 L1862.3,1154.1 L1863.8,1153.9 L1865.3,1153.7 L1866.8,1153.5 L1868.3,1153.3 L1869.8,1153.0 L1871.3,1152.8 L1872.8,1152.6 L1874.3,1152.4 L1875.8,1152.2 L1877.3,1151.9 L1878.8,1151.7 L1880.3,1151.5 L1881.8,1151.3 L1883.3,1151.0 L1884.8,1150.8 L1886.3,1150.5 L1887.8,1150.3 L1889.3,1150.1 L1890.8,1149.8 L1892.3,1149.6 L1893.8,1149.3 L1895.4,1149.1 L1896.9,1148.8 L1898.4,1148.6 L1899.9,1148.3 L1901.4,1148.0 L1902.9,1147.8 L1904.4,1147.5 L1905.9,1147.3 L1907.4,1147.0 L1908.9,1146.7 L1910.4,1146.4 L1911.9,1146.2 L1913.4,1145.9 L1914.9,1145.6 L1916.4,1145.3 L1917.9,1145.0 L1919.4,1144.8 L1920.9,1144.5 L1922.4,1144.2 L1923.9,1143.9 L1925.4,1143.6 L1926.9,1143.3 L1928.4,1143.0 L1929.9,1142.7 L1931.4,1142.4 L1932.9,1142.1 L1934.4,1141.8 L1935.9,1141.5 L1937.4,1141.1 L1938.9,1140.8 L1940.4,1140.5 L1941.9,1140.2 L1943.4,1139.9 L1944.9,1139.5 L1946.4,1139.2 L1947.9,1138.9 L1949.4,1138.5 L1950.9,1138.2 L1952.4,1137.9 L1953.9,1137.5 L1955.4,1137.2 L1956.9,1136.8 L1958.4,1136.5 L1959.9,1136.2 L1961.4,1135.8 L1962.9,1135.5 L1964.4,1135.1 L1965.9,1134.8 L1967.5,1134.4 L1969.0,1134.0 L1970.5,1133.7 L1972.0,1133.3 L1973.5,1133.0 L1975.0,1132.6 L1976.5,1132.3 L1978.0,1131.9 L1979.5,1131.5 L1981.0,1131.2 L1982.5,1130.8 L1984.0,1130.4 L1985.5,1130.1 L1987.0,1129.7 L1988.5,1129.3 L1990.0,1129.0 L1991.5,1128.6 L1993.0,1128.2 L1994.5,1127.9 L1996.0,1127.5 L1997.5,1127.1 L1999.0,1126.7 L2000.5,1126.4 L2002.0,1126.0 L2003.5,1125.6 L2005.0,1125.3 L2006.5,1124.9 L2008.0,1124.5 L2009.5,1124.1 L2011.0,1123.8 L2012.5,1123.4 L2014.0,1123.0 L2015.5,1122.6 L2017.0,1122.3 L2018.5,1121.9 L2020.0,1121.5 L2021.5,1121.1 L2023.0,1120.8 L2024.5,1120.4 L2026.0,1120.0 L2027.5,1119.6 L2029.0,1119.2 L2030.5,1118.8 L2032.0,1118.5 L2033.5,1118.1 L2035.0,1117.7 L2036.5,1117.3 L2038.1,1116.9 L2039.6,1116.5 L2041.1,1116.1 L2042.6,1115.8 L2044.1,1115.4 L2045.6,1115.0 L2047.1,1114.6 L2048.6,1114.2 L2050.1,1113.8 L2051.6,1113.4 L2053.1,1113.0 L2054.6,1112.6 L2056.1,1112.2 L2057.6,1111.8 L2059.1,1111.4 L2060.6,1111.0 L2062.1,1110.6 L2063.6,1110.2 L2065.1,1109.7 L2066.6,1109.3 L2068.1,1108.9 L2069.6,1108.5 L2071.1,1108.1 L2072.6,1107.7 L2074.1,1107.3 L2075.6,1106.8 L2077.1,1106.4 L2078.6,1106.0 L2080.1,1105.6 L2081.6,1105.1 L2083.1,1104.7 L2084.6,1104.3 L2086.1,1103.8 L2087.6,1103.4 L2089.1,1103.0 L2090.6,1102.5 L2092.1,1102.1 L2093.6,1101.6 L2095.1,1101.2 L2096.6,1100.7 L2098.1,1100.3 L2099.6,1099.8 L2101.1,1099.4 L2102.6,1098.9 L2104.1,1098.5 L2105.6,1098.0 L2107.1,1097.5 L2108.6,1097.1 L2110.2,1096.6 L2111.7,1096.1 L2113.2,1095.7 L2114.7,1095.2 L2116.2,1094.7 L2117.7,1094.2 L2119.2,1093.7 L2120.7,1093.3 L2122.2,1092.8 L2123.7,1092.3 L2125.2,1091.8 L2126.7,1091.3 L2128.2,1090.8 L2129.7,1090.3 L2131.2,1089.8 L2132.7,1089.3 L2134.2,1088.8 L2135.7,1088.2 L2137.2,1087.7 L2138.7,1087.2 L2140.2,1086.7 L2141.7,1086.2 L2143.2,1085.6 L2144.7,1085.1 L2146.2,1084.6 L2147.7,1084.0 L2149.2,1083.5 L2150.7,1082.9 L2152.2,1082.4 L2153.7,1081.8 L2155.2,1081.3 L2156.7,1080.7 L2158.2,1080.2 L2159.7,1079.6 L2161.2,1079.0 L2162.7,1078.5 L2164.2,1077.9 L2165.7,1077.3 L2167.2,1076.7 L2168.7,1076.2 L2170.2,1075.6 L2171.7,1075.0 L2173.2,1074.4 L2174.7,1073.8 L2176.2,1073.2 L2177.7,1072.6 L2179.2,1072.0 L2180.7,1071.4 L2182.3,1070.7 L2183.8,1070.1 L2185.3,1069.5 L2186.8,1068.9 L2188.3,1068.2 L2189.8,1067.6 L2191.3,1066.9 L2192.8,1066.3 L2194.3,1065.7 L2195.8,1065.0 L2197.3,1064.3 L2198.8,1063.7 L2200.3,1063.0 L2201.8,1062.4 L2203.3,1061.7 L2204.8,1061.0 L2206.3,1060.3 L2207.8,1059.6 L2209.3,1058.9 L2210.8,1058.2 L2212.3,1057.5 L2213.8,1056.8 L2215.3,1056.1 L2216.8,1055.4 L2218.3,1054.7 L2219.8,1054.0 L2221.3,1053.3 L2222.8,1052.6 L2224.3,1051.8 L2225.8,1051.1 L2227.3,1050.4 L2228.8,1049.6 L2230.3,1048.9 L2231.8,1048.1 L2233.3,1047.4 L2234.8,1046.6 L2236.3,1045.9 L2237.8,1045.1 L2239.3,1044.4 L2240.8,1043.6 L2242.3,1042.8 L2243.8,1042.1 L2245.3,1041.3 L2246.8,1040.5 L2248.3,1039.7 L2249.8,1038.9 L2251.3,1038.2 L2252.8,1037.4 L2254.4,1036.6 L2255.9,1035.8 L2257.4,1035.0 L2258.9,1034.2 L2260.4,1033.4 L2261.9,1032.6 L2263.4,1031.8 L2264.9,1031.0 L2266.4,1030.2 L2267.9,1029.4 L2269.4,1028.6 L2270.9,1027.8 L2272.4,1027.0 L2273.9,1026.1 L2275.4,1025.3 L2276.9,1024.5 L2278.4,1023.7 L2279.9,1022.9 L2281.4,1022.0 L2282.9,1021.2 L2284.4,1020.4 L2285.9,1019.6 L2287.4,1018.7 L2288.9,1017.9 L2290.4,1017.1 L2291.9,1016.2 L2293.4,1015.4 L2294.9,1014.6 L2296.4,1013.7 L2297.9,1012.9 L2299.4,1012.1 L2300.9,1011.2 L2302.4,1010.4 L2303.9,1009.5 L2305.4,1008.7 L2306.9,1007.9 L2308.4,1007.0 L2309.9,1006.2 L2311.4,1005.3 L2312.9,1004.5 L2314.4,1003.6 L2315.9,1002.8 L2317.4,1002.0 L2318.9,1001.1 L2320.4,1000.3 L2321.9,999.4 L2323.4,998.6 L2324.9,997.7 L2326.5,996.9 L2328.0,996.1 L2329.5,995.2 L2331.0,994.4 L2332.5,993.5 L2334.0,992.7 L2335.5,991.8 L2337.0,991.0 L2338.5,990.2 L2340.0,989.3 L2341.5,988.5 L2343.0,987.6 L2344.5,986.8 L2346.0,986.0 L2347.5,985.1 L2349.0,984.3 L2350.5,983.5 L2352.0,982.6 L2353.5,981.8 L2355.0,981.0 L2356.5,980.1 L2358.0,979.3 L2359.5,978.5 L2361.0,977.7" stroke="#000000" stroke-width="7"/>
<path d="M1643.0,1197.0 L1644.5,1197.0 L1646.0,1196.9 L1647.5,1196.9 L1649.0,1196.9 L1650.5,1196.8 L1652.0,1196.8 L1653.5,1196.8 L1655.0,1196.8 L1656.5,1196.7 L1658.0,1196.7 L1659.5,1196.7 L1661.0,1196.6 L1662.5,1196.6 L1664.0,1196.6 L1665.5,1196.6 L1667.0,1196.5 L1668.5,1196.5 L1670.0,1196.5 L1671.5,1196.4 L1673.0,1196.4 L1674.5,1196.4 L1676.0,1196.3 L1677.5,1196.3 L1679.1,1196.3 L1680.6,1196.2 L1682.1,1196.2 L1683.6,1196.2 L1685.1,1196.1 L1686.6,1196.1 L1688.1,1196.1 L1689.6,1196.0 L1691.1,1196.0 L1692.6,1196.0 L1694.1,1195.9 L1695.6,1195.9 L1697.1,1195.8 L1698.6,1195.8 L1700.1,1195.8 L1701.6,1195.7 L1703.1,1195.7 L1704.6,1195.6 L1706.1,1195.6 L1707.6,1195.5 L1709.1,1195.5 L1710.6,1195.4 L1712.1,1195.4 L1713.6,1195.3 L1715.1,1195.3 L1716.6,1195.2 L1718.1,1195.2 L1719.6,1195.1 L1721.1,1195.1 L1722.6,1195.0 L1724.1,1195.0 L1725.6,1194.9 L1727.1,1194.9 L1728.6,1194.8 L1730.1,1194.7 L1731.6,1194.7 L1733.1,1194.6 L1734.6,1194.5 L1736.1,1194.5 L1737.6,1194.4 L1739.1,1194.3 L1740.6,1194.3 L1742.1,1194.2 L1743.6,1194.1 L1745.1,1194.1 L1746.6,1194.0 L1748.1,1193.9 L1749.6,1193.8 L1751.2,1193.7 L1752.7,1193.7 L1754.2,1193.6 L1755.7,1193.5 L1757.2,1193.4 L1758.7,1193.3 L1760.2,1193.2 L1761.7,1193.1 L1763.2,1193.1 L1764.7,1193.0 L1766.2,1192.9 L1767.7,1192.8 L1769.2,1192.7 L1770.7,1192.6 L1772.2,1192.5 L1773.7,1192.4 L1775.2,1192.3 L1776.7,1192.2 L1778.2,1192.1 L1779.7,1191.9 L1781.2,1191.8 L1782.7,1191.7 L1784.2,1191.6 L1785.7,1191.5 L1787.2,1191.4 L1788.7,1191.2 L1790.2,1191.1 L1791.7,1191.0 L1793.2,1190.9 L1794.7,1190.8 L1796.2,1190.6 L1797.7,1190.5 L1799.2,1190.4 L1800.7,1190.2 L1802.2,1190.1 L1803.7,1190.0 L1805.2,1189.8 L1806.7,1189.7 L1808.2,1189.5 L1809.7,1189.4 L1811.2,1189.2 L1812.7,1189.1 L1814.2,1188.9 L1815.7,1188.8 L1817.2,1188.6 L1818.7,1188.5 L1820.2,1188.3 L1821.7,1188.1 L1823.3,1188.0 L1824.8,1187.8 L1826.3,1187.6 L1827.8,1187.5 L1829.3,1187.3 L1830.8,1187.1 L1832.3,1186.9 L1833.8,1186.8 L1835.3,1186.6 L1836.8,1186.4 L1838.3,1186.2 L1839.8,1186.0 L1841.3,1185.8 L1842.8,1185.6 L1844.3,1185.5 L1845.8,1185.3 L1847.3,1185.1 L1848.8,1184.9 L1850.3,1184.7 L1851.8,1184.5 L1853.3,1184.2 L1854.8,1184.0 L1856.3,1183.8 L1857.8,1183.6 L1859.3,1183.4 L1860.8,1183.2 L1862.3,1183.0 L1863.8,1182.8 L1865.3,1182.5 L1866.8,1182.3 L1868.3,1182.1 L1869.8,1181.9 L1871.3,1181.6 L1872.8,1181.4 L1874.3,1181.2 L1875.8,1180.9 L1877.3,1180.7 L1878.8,1180.5 L1880.3,1180.2 L1881.8,1180.0 L1883.3,1179.7 L1884.8,1179.5 L1886.3,1179.3 L1887.8,1179.0 L1889.3,1178.8 L1890.8,1178.5 L1892.3,1178.3 L1893.8,1178.0 L1895.4,1177.8 L1896.9,1177.5 L1898.4,1177.2 L1899.9,1177.0 L1901.4,1176.7 L1902.9,1176.5 L1904.4,1176.2 L1905.9,1175.9 L1907.4,1175.7 L1908.9,1175.4 L1910.4,1175.1 L1911.9,1174.9 L1913.4,1174.6 L1914.9,1174.3 L1916.4,1174.0 L1917.9,1173.8 L1919.4,1173.5 L1920.9,1173.2 L1922.4,1172.9 L1923.9,1172.7 L1925.4,1172.4 L1926.9,1172.1 L1928.4,1171.8 L1929.9,1171.5 L1931.4,1171.2 L1932.9,1170.9 L1934.4,1170.7 L1935.9,1170.4 L1937.4,1170.1 L1938.9,1169.8 L1940.4,1169.5 L1941.9,1169.2 L1943.4,1168.9 L1944.9,1168.6 L1946.4,1168.3 L1947.9,1168.0 L1949.4,1167.7 L1950.9,1167.4 L1952.4,1167.1 L1953.9,1166.8 L1955.4,1166.5 L1956.9,1166.2 L1958.4,1165.9 L1959.9,1165.6 L1961.4,1165.3 L1962.9,1165.0 L1964.4,1164.7 L1965.9,1164.4 L1967.5,1164.0 L1969.0,1163.7 L1970.5,1163.4 L1972.0,1163.1 L1973.5,1162.8 L1975.0,1162.5 L1976.5,1162.1 L1978.0,1161.8 L1979.5,1161.5 L1981.0,1161.2 L1982.5,1160.8 L1984.0,1160.5 L1985.5,1160.2 L1987.0,1159.9 L1988.5,1159.5 L1990.0,1159.2 L1991.5,1158.9 L1993.0,1158.5 L1994.5,1158.2 L1996.0,1157.8 L1997.5,1157.5 L1999.0,1157.2 L2000.5,1156.8 L2002.0,1156.5 L2003.5,1156.1 L2005.0,1155.8 L2006.5,1155.4 L2008.0,1155.1 L2009.5,1154.7 L2011.0,1154.4 L2012.5,1154.0 L2014.0,1153.7 L2015.5,1153.3 L2017.0,1153.0 L2018.5,1152.6 L2020.0,1152.2 L2021.5,1151.9 L2023.0,1151.5 L2024.5,1151.1 L2026.0,1150.8 L2027.5,1150.4 L2029.0,1150.0 L2030.5,1149.7 L2032.0,1149.3 L2033.5,1148.9 L2035.0,1148.5 L2036.5,1148.2 L2038.1,1147.8 L2039.6,1147.4 L2041.1,1147.0 L2042.6,1146.6 L2044.1,1146.3 L2045.6,1145.9 L2047.1,1145.5 L2048.6,1145.1 L2050.1,1144.7 L2051.6,1144.3 L2053.1,1143.9 L2054.6,1143.5 L2056.1,1143.1 L2057.6,1142.7 L2059.1,1142.3 L2060.6,1141.9 L2062.1,1141.5 L2063.6,1141.1 L2065.1,1140.7 L2066.6,1140.3 L2068.1,1139.9 L2069.6,1139.5 L2071.1,1139.0 L2072.6,1138.6 L2074.1,1138.2 L2075.6,1137.8 L2077.1,1137.4 L2078.6,1136.9 L2080.1,1136.5 L2081.6,1136.1 L2083.1,1135.7 L2084.6,1135.2 L2086.1,1134.8 L2087.6,1134.4 L2089.1,1133.9 L2090.6,1133.5 L2092.1,1133.1 L2093.6,1132.6 L2095.1,1132.2 L2096.6,1131.7 L2098.1,1131.3 L2099.6,1130.9 L2101.1,1130.4 L2102.6,1130.0 L2104.1,1129.5 L2105.6,1129.1 L2107.1,1128.6 L2108.6,1128.1 L2110.2,1127.7 L2111.7,1127.2 L2113.2,1126.8 L2114.7,1126.3 L2116.2,1125.8 L2117.7,1125.4 L2119.2,1124.9 L2120.7,1124.4 L2122.2,1124.0 L2123.7,1123.5 L2125.2,1123.0 L2126.7,1122.5 L2128.2,1122.0 L2129.7,1121.6 L2131.2,1121.1 L2132.7,1120.6 L2134.2,1120.1 L2135.7,1119.6 L2137.2,1119.1 L2138.7,1118.6 L2140.2,1118.1 L2141.7,1117.6 L2143.2,1117.1 L2144.7,1116.6 L2146.2,1116.1 L2147.7,1115.6 L2149.2,1115.1 L2150.7,1114.6 L2152.2,1114.1 L2153.7,1113.6 L2155.2,1113.1 L2156.7,1112.6 L2158.2,1112.1 L2159.7,1111.5 L2161.2,1111.0 L2162.7,1110.5 L2164.2,1110.0 L2165.7,1109.4 L2167.2,1108.9 L2168.7,1108.4 L2170.2,1107.9 L2171.7,1107.3 L2173.2,1106.8 L2174.7,1106.2 L2176.2,1105.7 L2177.7,1105.2 L2179.2,1104.6 L2180.7,1104.1 L2182.3,1103.5 L2183.8,1103.0 L2185.3,1102.4 L2186.8,1101.9 L2188.3,1101.3 L2189.8,1100.8 L2191.3,1100.2 L2192.8,1099.6 L2194.3,1099.1 L2195.8,1098.5 L2197.3,1097.9 L2198.8,1097.4 L2200.3,1096.8 L2201.8,1096.2 L2203.3,1095.6 L2204.8,1095.1 L2206.3,1094.5 L2207.8,1093.9 L2209.3,1093.3 L2210.8,1092.7 L2212.3,1092.1 L2213.8,1091.5 L2215.3,1091.0 L2216.8,1090.4 L2218.3,1089.8 L2219.8,1089.2 L2221.3,1088.6 L2222.8,1088.0 L2224.3,1087.4 L2225.8,1086.8 L2227.3,1086.2 L2228.8,1085.5 L2230.3,1084.9 L2231.8,1084.3 L2233.3,1083.7 L2234.8,1083.1 L2236.3,1082.5 L2237.8,1081.9 L2239.3,1081.2 L2240.8,1080.6 L2242.3,1080.0 L2243.8,1079.4 L2245.3,1078.7 L2246.8,1078.1 L2248.3,1077.5 L2249.8,1076.8 L2251.3,1076.2 L2252.8,1075.6 L2254.4,1074.9 L2255.9,1074.3 L2257.4,1073.7 L2258.9,1073.0 L2260.4,1072.4 L2261.9,1071.7 L2263.4,1071.1 L2264.9,1070.4 L2266.4,1069.8 L2267.9,1069.1 L2269.4,1068.5 L2270.9,1067.8 L2272.4,1067.2 L2273.9,1066.5 L2275.4,1065.9 L2276.9,1065.2 L2278.4,1064.5 L2279.9,1063.9 L2281.4,1063.2 L2282.9,1062.6 L2284.4,1061.9 L2285.9,1061.2 L2287.4,1060.6 L2288.9,1059.9 L2290.4,1059.2 L2291.9,1058.6 L2293.4,1057.9 L2294.9,1057.2 L2296.4,1056.5 L2297.9,1055.9 L2299.4,1055.2 L2300.9,1054.5 L2302.4,1053.8 L2303.9,1053.2 L2305.4,1052.5 L2306.9,1051.8 L2308.4,1051.1 L2309.9,1050.4 L2311.4,1049.8 L2312.9,1049.1 L2314.4,1048.4 L2315.9,1047.7 L2317.4,1047.0 L2318.9,1046.3 L2320.4,1045.6 L2321.9,1044.9 L2323.4,1044.3 L2324.9,1043.6 L2326.5,1042.9 L2328.0,1042.2 L2329.5,1041.5 L2331.0,1040.8 L2332.5,1040.1 L2334.0,1039.4 L2335.5,1038.7 L2337.0,1038.0 L2338.5,1037.3 L2340.0,1036.6 L2341.5,1035.9 L2343.0,1035.2 L2344.5,1034.5 L2346.0,1033.8 L2347.5,1033.1 L2349.0,1032.4 L2350.5,1031.7 L2352.0,1031.0 L2353.5,1030.3 L2355.0,1029.6 L2356.5,1028.9 L2358.0,1028.2 L2359.5,1027.5 L2361.0,1026.8" stroke="#FF0000" stroke-width="7"/>
<path d="M1643.0,1258.7 L1644.5,1258.7 L1646.0,1258.6 L1647.5,1258.6 L1649.0,1258.5 L1650.5,1258.5 L1652.0,1258.4 L1653.5,1258.4 L1655.0,1258.3 L1656.5,1258.3 L1658.0,1258.2 L1659.5,1258.1 L1661.0,1258.1 L1662.5,1258.0 L1664.0,1258.0 L1665.5,1257.9 L1667.0,1257.8 L1668.5,1257.8 L1670.0,1257.7 L1671.5,1257.7 L1673.0,1257.6 L1674.5,1257.5 L1676.0,1257.5 L1677.5,1257.4 L1679.1,1257.3 L1680.6,1257.3 L1682.1,1257.2 L1683.6,1257.1 L1685.1,1257.1 L1686.6,1257.0 L1688.1,1256.9 L1689.6,1256.9 L1691.1,1256.8 L1692.6,1256.7 L1694.1,1256.6 L1695.6,1256.6 L1697.1,1256.5 L1698.6,1256.4 L1700.1,1256.3 L1701.6,1256.3 L1703.1,1256.2 L1704.6,1256.1 L1706.1,1256.0 L1707.6,1256.0 L1709.1,1255.9 L1710.6,1255.8 L1712.1,1255.7 L1713.6,1255.6 L1715.1,1255.5 L1716.6,1255.5 L1718.1,1255.4 L1719.6,1255.3 L1721.1,1255.2 L1722.6,1255.1 L1724.1,1255.0 L1725.6,1254.9 L1727.1,1254.9 L1728.6,1254.8 L1730.1,1254.7 L1731.6,1254.6 L1733.1,1254.5 L1734.6,1254.4 L1736.1,1254.3 L1737.6,1254.2 L1739.1,1254.1 L1740.6,1254.0 L1742.1,1253.9 L1743.6,1253.8 L1745.1,1253.7 L1746.6,1253.6 L1748.1,1253.5 L1749.6,1253.4 L1751.2,1253.3 L1752.7,1253.2 L1754.2,1253.1 L1755.7,1253.0 L1757.2,1252.9 L1758.7,1252.8 L1760.2,1252.7 L1761.7,1252.6 L1763.2,1252.5 L1764.7,1252.4 L1766.2,1252.3 L1767.7,1252.2 L1769.2,1252.1 L1770.7,1252.0 L1772.2,1251.8 L1773.7,1251.7 L1775.2,1251.6 L1776.7,1251.5 L1778.2,1251.4 L1779.7,1251.3 L1781.2,1251.2 L1782.7,1251.0 L1784.2,1250.9 L1785.7,1250.8 L1787.2,1250.7 L1788.7,1250.6 L1790.2,1250.4 L1791.7,1250.3 L1793.2,1250.2 L1794.7,1250.1 L1796.2,1249.9 L1797.7,1249.8 L1799.2,1249.7 L1800.7,1249.6 L1802.2,1249.4 L1803.7,1249.3 L1805.2,1249.2 L1806.7,1249.0 L1808.2,1248.9 L1809.7,1248.8 L1811.2,1248.6 L1812.7,1248.5 L1814.2,1248.4 L1815.7,1248.2 L1817.2,1248.1 L1818.7,1248.0 L1820.2,1247.8 L1821.7,1247.7 L1823.3,1247.5 L1824.8,1247.4 L1826.3,1247.2 L1827.8,1247.1 L1829.3,1247.0 L1830.8,1246.8 L1832.3,1246.7 L1833.8,1246.5 L1835.3,1246.4 L1836.8,1246.2 L1838.3,1246.1 L1839.8,1245.9 L1841.3,1245.8 L1842.8,1245.6 L1844.3,1245.5 L1845.8,1245.3 L1847.3,1245.1 L1848.8,1245.0 L1850.3,1244.8 L1851.8,1244.7 L1853.3,1244.5 L1854.8,1244.3 L1856.3,1244.2 L1857.8,1244.0 L1859.3,1243.9 L1860.8,1243.7 L1862.3,1243.5 L1863.8,1243.4 L1865.3,1243.2 L1866.8,1243.0 L1868.3,1242.8 L1869.8,1242.7 L1871.3,1242.5 L1872.8,1242.3 L1874.3,1242.2 L1875.8,1242.0 L1877.3,1241.8 L1878.8,1241.6 L1880.3,1241.4 L1881.8,1241.3 L1883.3,1241.1 L1884.8,1240.9 L1886.3,1240.7 L1887.8,1240.5 L1889.3,1240.4 L1890.8,1240.2 L1892.3,1240.0 L1893.8,1239.8 L1895.4,1239.6 L1896.9,1239.4 L1898.4,1239.2 L1899.9,1239.0 L1901.4,1238.8 L1902.9,1238.6 L1904.4,1238.5 L1905.9,1238.3 L1907.4,1238.1 L1908.9,1237.9 L1910.4,1237.7 L1911.9,1237.5 L1913.4,1237.3 L1914.9,1237.1 L1916.4,1236.9 L1917.9,1236.6 L1919.4,1236.4 L1920.9,1236.2 L1922.4,1236.0 L1923.9,1235.8 L1925.4,1235.6 L1926.9,1235.4 L1928.4,1235.2 L1929.9,1235.0 L1931.4,1234.8 L1932.9,1234.5 L1934.4,1234.3 L1935.9,1234.1 L1937.4,1233.9 L1938.9,1233.7 L1940.4,1233.4 L1941.9,1233.2 L1943.4,1233.0 L1944.9,1232.8 L1946.4,1232.5 L1947.9,1232.3 L1949.4,1232.1 L1950.9,1231.9 L1952.4,1231.6 L1953.9,1231.4 L1955.4,1231.2 L1956.9,1230.9 L1958.4,1230.7 L1959.9,1230.5 L1961.4,1230.2 L1962.9,1230.0 L1964.4,1229.7 L1965.9,1229.5 L1967.5,1229.3 L1969.0,1229.0 L1970.5,1228.8 L1972.0,1228.5 L1973.5,1228.3 L1975.0,1228.0 L1976.5,1227.8 L1978.0,1227.5 L1979.5,1227.3 L1981.0,1227.0 L1982.5,1226.8 L1984.0,1226.5 L1985.5,1226.3 L1987.0,1226.0 L1988.5,1225.7 L1990.0,1225.5 L1991.5,1225.2 L1993.0,1225.0 L1994.5,1224.7 L1996.0,1224.4 L1997.5,1224.2 L1999.0,1223.9 L2000.5,1223.6 L2002.0,1223.4 L2003.5,1223.1 L2005.0,1222.8 L2006.5,1222.5 L2008.0,1222.3 L2009.5,1222.0 L2011.0,1221.7 L2012.5,1221.4 L2014.0,1221.2 L2015.5,1220.9 L2017.0,1220.6 L2018.5,1220.3 L2020.0,1220.0 L2021.5,1219.7 L2023.0,1219.4 L2024.5,1219.2 L2026.0,1218.9 L2027.5,1218.6 L2029.0,1218.3 L2030.5,1218.0 L2032.0,1217.7 L2033.5,1217.4 L2035.0,1217.1 L2036.5,1216.8 L2038.1,1216.5 L2039.6,1216.2 L2041.1,1215.9 L2042.6,1215.6 L2044.1,1215.3 L2045.6,1215.0 L2047.1,1214.7 L2048.6,1214.4 L2050.1,1214.0 L2051.6,1213.7 L2053.1,1213.4 L2054.6,1213.1 L2056.1,1212.8 L2057.6,1212.5 L2059.1,1212.1 L2060.6,1211.8 L2062.1,1211.5 L2063.6,1211.2 L2065.1,1210.9 L2066.6,1210.5 L2068.1,1210.2 L2069.6,1209.9 L2071.1,1209.5 L2072.6,1209.2 L2074.1,1208.9 L2075.6,1208.5 L2077.1,1208.2 L2078.6,1207.9 L2080.1,1207.5 L2081.6,1207.2 L2083.1,1206.9 L2084.6,1206.5 L2086.1,1206.2 L2087.6,1205.8 L2089.1,1205.5 L2090.6,1205.1 L2092.1,1204.8 L2093.6,1204.4 L2095.1,1204.1 L2096.6,1203.7 L2098.1,1203.4 L2099.6,1203.0 L2101.1,1202.6 L2102.6,1202.3 L2104.1,1201.9 L2105.6,1201.6 L2107.1,1201.2 L2108.6,1200.8 L2110.2,1200.5 L2111.7,1200.1 L2113.2,1199.7 L2114.7,1199.4 L2116.2,1199.0 L2117.7,1198.6 L2119.2,1198.2 L2120.7,1197.9 L2122.2,1197.5 L2123.7,1197.1 L2125.2,1196.7 L2126.7,1196.3 L2128.2,1196.0 L2129.7,1195.6 L2131.2,1195.2 L2132.7,1194.8 L2134.2,1194.4 L2135.7,1194.0 L2137.2,1193.6 L2138.7,1193.2 L2140.2,1192.8 L2141.7,1192.4 L2143.2,1192.0 L2144.7,1191.6 L2146.2,1191.2 L2147.7,1190.8 L2149.2,1190.4 L2150.7,1190.0 L2152.2,1189.6 L2153.7,1189.2 L2155.2,1188.8 L2156.7,1188.4 L2158.2,1188.0 L2159.7,1187.5 L2161.2,1187.1 L2162.7,1186.7 L2164.2,1186.3 L2165.7,1185.9 L2167.2,1185.4 L2168.7,1185.0 L2170.2,1184.6 L2171.7,1184.2 L2173.2,1183.7 L2174.7,1183.3 L2176.2,1182.9 L2177.7,1182.4 L2179.2,1182.0 L2180.7,1181.6 L2182.3,1181.1 L2183.8,1180.7 L2185.3,1180.2 L2186.8,1179.8 L2188.3,1179.3 L2189.8,1178.9 L2191.3,1178.4 L2192.8,1178.0 L2194.3,1177.5 L2195.8,1177.1 L2197.3,1176.6 L2198.8,1176.2 L2200.3,1175.7 L2201.8,1175.3 L2203.3,1174.8 L2204.8,1174.3 L2206.3,1173.9 L2207.8,1173.4 L2209.3,1172.9 L2210.8,1172.5 L2212.3,1172.0 L2213.8,1171.5 L2215.3,1171.1 L2216.8,1170.6 L2218.3,1170.1 L2219.8,1169.6 L2221.3,1169.1 L2222.8,1168.7 L2224.3,1168.2 L2225.8,1167.7 L2227.3,1167.2 L2228.8,1166.7 L2230.3,1166.2 L2231.8,1165.7 L2233.3,1165.2 L2234.8,1164.7 L2236.3,1164.2 L2237.8,1163.7 L2239.3,1163.2 L2240.8,1162.7 L2242.3,1162.2 L2243.8,1161.7 L2245.3,1161.2 L2246.8,1160.7 L2248.3,1160.2 L2249.8,1159.7 L2251.3,1159.2 L2252.8,1158.7 L2254.4,1158.1 L2255.9,1157.6 L2257.4,1157.1 L2258.9,1156.6 L2260.4,1156.0 L2261.9,1155.5 L2263.4,1155.0 L2264.9,1154.5 L2266.4,1153.9 L2267.9,1153.4 L2269.4,1152.9 L2270.9,1152.3 L2272.4,1151.8 L2273.9,1151.3 L2275.4,1150.7 L2276.9,1150.2 L2278.4,1149.6 L2279.9,1149.1 L2281.4,1148.5 L2282.9,1148.0 L2284.4,1147.4 L2285.9,1146.9 L2287.4,1146.3 L2288.9,1145.8 L2290.4,1145.2 L2291.9,1144.6 L2293.4,1144.1 L2294.9,1143.5 L2296.4,1142.9 L2297.9,1142.4 L2299.4,1141.8 L2300.9,1141.2 L2302.4,1140.7 L2303.9,1140.1 L2305.4,1139.5 L2306.9,1138.9 L2308.4,1138.3 L2309.9,1137.8 L2311.4,1137.2 L2312.9,1136.6 L2314.4,1136.0 L2315.9,1135.4 L2317.4,1134.8 L2318.9,1134.2 L2320.4,1133.6 L2321.9,1133.0 L2323.4,1132.4 L2324.9,1131.8 L2326.5,1131.2 L2328.0,1130.6 L2329.5,1130.0 L2331.0,1129.4 L2332.5,1128.8 L2334.0,1128.2 L2335.5,1127.6 L2337.0,1127.0 L2338.5,1126.3 L2340.0,1125.7 L2341.5,1125.1 L2343.0,1124.5 L2344.5,1123.9 L2346.0,1123.2 L2347.5,1122.6 L2349.0,1122.0 L2350.5,1121.3 L2352.0,1120.7 L2353.5,1120.1 L2355.0,1119.4 L2356.5,1118.8 L2358.0,1118.1 L2359.5,1117.5 L2361.0,1116.9" stroke="#0000FF" stroke-width="7"/>
<path d="M1643.0,1331.8 L1644.5,1331.8 L1646.0,1331.7 L1647.5,1331.7 L1649.0,1331.7 L1650.5,1331.6 L1652.0,1331.6 L1653.5,1331.5 L1655.0,1331.5 L1656.5,1331.4 L1658.0,1331.4 L1659.5,1331.3 L1661.0,1331.3 L1662.5,1331.2 L1664.0,1331.2 L1665.5,1331.1 L1667.0,1331.1 L1668.5,1331.0 L1670.0,1331.0 L1671.5,1330.9 L1673.0,1330.9 L1674.5,1330.8 L1676.0,1330.8 L1677.5,1330.7 L1679.1,1330.7 L1680.6,1330.6 L1682.1,1330.6 L1683.6,1330.5 L1685.1,1330.5 L1686.6,1330.4 L1688.1,1330.4 L1689.6,1330.3 L1691.1,1330.2 L1692.6,1330.2 L1694.1,1330.1 L1695.6,1330.1 L1697.1,1330.0 L1698.6,1329.9 L1700.1,1329.9 L1701.6,1329.8 L1703.1,1329.7 L1704.6,1329.7 L1706.1,1329.6 L1707.6,1329.6 L1709.1,1329.5 L1710.6,1329.4 L1712.1,1329.4 L1713.6,1329.3 L1715.1,1329.2 L1716.6,1329.2 L1718.1,1329.1 L1719.6,1329.0 L1721.1,1329.0 L1722.6,1328.9 L1724.1,1328.8 L1725.6,1328.7 L1727.1,1328.7 L1728.6,1328.6 L1730.1,1328.5 L1731.6,1328.5 L1733.1,1328.4 L1734.6,1328.3 L1736.1,1328.2 L1737.6,1328.2 L1739.1,1328.1 L1740.6,1328.0 L1742.1,1327.9 L1743.6,1327.8 L1745.1,1327.8 L1746.6,1327.7 L1748.1,1327.6 L1749.6,1327.5 L1751.2,1327.4 L1752.7,1327.4 L1754.2,1327.3 L1755.7,1327.2 L1757.2,1327.1 L1758.7,1327.0 L1760.2,1326.9 L1761.7,1326.8 L1763.2,1326.8 L1764.7,1326.7 L1766.2,1326.6 L1767.7,1326.5 L1769.2,1326.4 L1770.7,1326.3 L1772.2,1326.2 L1773.7,1326.1 L1775.2,1326.0 L1776.7,1325.9 L1778.2,1325.9 L1779.7,1325.8 L1781.2,1325.7 L1782.7,1325.6 L1784.2,1325.5 L1785.7,1325.4 L1787.2,1325.3 L1788.7,1325.2 L1790.2,1325.1 L1791.7,1325.0 L1793.2,1324.9 L1794.7,1324.8 L1796.2,1324.7 L1797.7,1324.6 L1799.2,1324.5 L1800.7,1324.4 L1802.2,1324.3 L1803.7,1324.2 L1805.2,1324.1 L1806.7,1323.9 L1808.2,1323.8 L1809.7,1323.7 L1811.2,1323.6 L1812.7,1323.5 L1814.2,1323.4 L1815.7,1323.3 L1817.2,1323.2 L1818.7,1323.1 L1820.2,1323.0 L1821.7,1322.8 L1823.3,1322.7 L1824.8,1322.6 L1826.3,1322.5 L1827.8,1322.4 L1829.3,1322.3 L1830.8,1322.1 L1832.3,1322.0 L1833.8,1321.9 L1835.3,1321.8 L1836.8,1321.7 L1838.3,1321.5 L1839.8,1321.4 L1841.3,1321.3 L1842.8,1321.2 L1844.3,1321.0 L1845.8,1320.9 L1847.3,1320.8 L1848.8,1320.7 L1850.3,1320.5 L1851.8,1320.4 L1853.3,1320.3 L1854.8,1320.1 L1856.3,1320.0 L1857.8,1319.9 L1859.3,1319.7 L1860.8,1319.6 L1862.3,1319.5 L1863.8,1319.3 L1865.3,1319.2 L1866.8,1319.1 L1868.3,1318.9 L1869.8,1318.8 L1871.3,1318.7 L1872.8,1318.5 L1874.3,1318.4 L1875.8,1318.2 L1877.3,1318.1 L1878.8,1317.9 L1880.3,1317.8 L1881.8,1317.7 L1883.3,1317.5 L1884.8,1317.4 L1886.3,1317.2 L1887.8,1317.1 L1889.3,1316.9 L1890.8,1316.8 L1892.3,1316.6 L1893.8,1316.5 L1895.4,1316.3 L1896.9,1316.2 L1898.4,1316.0 L1899.9,1315.9 L1901.4,1315.7 L1902.9,1315.5 L1904.4,1315.4 L1905.9,1315.2 L1907.4,1315.1 L1908.9,1314.9 L1910.4,1314.7 L1911.9,1314.6 L1913.4,1314.4 L1914.9,1314.3 L1916.4,1314.1 L1917.9,1313.9 L1919.4,1313.8 L1920.9,1313.6 L1922.4,1313.4 L1923.9,1313.3 L1925.4,1313.1 L1926.9,1312.9 L1928.4,1312.7 L1929.9,1312.6 L1931.4,1312.4 L1932.9,1312.2 L1934.4,1312.0 L1935.9,1311.9 L1937.4,1311.7 L1938.9,1311.5 L1940.4,1311.3 L1941.9,1311.2 L1943.4,1311.0 L1944.9,1310.8 L1946.4,1310.6 L1947.9,1310.4 L1949.4,1310.2 L1950.9,1310.1 L1952.4,1309.9 L1953.9,1309.7 L1955.4,1309.5 L1956.9,1309.3 L1958.4,1309.1 L1959.9,1308.9 L1961.4,1308.7 L1962.9,1308.5 L1964.4,1308.3 L1965.9,1308.2 L1967.5,1308.0 L1969.0,1307.8 L1970.5,1307.6 L1972.0,1307.4 L1973.5,1307.2 L1975.0,1307.0 L1976.5,1306.8 L1978.0,1306.6 L1979.5,1306.4 L1981.0,1306.2 L1982.5,1305.9 L1984.0,1305.7 L1985.5,1305.5 L1987.0,1305.3 L1988.5,1305.1 L1990.0,1304.9 L1991.5,1304.7 L1993.0,1304.5 L1994.5,1304.3 L1996.0,1304.1 L1997.5,1303.8 L1999.0,1303.6 L2000.5,1303.4 L2002.0,1303.2 L2003.5,1303.0 L2005.0,1302.8 L2006.5,1302.5 L2008.0,1302.3 L2009.5,1302.1 L2011.0,1301.9 L2012.5,1301.6 L2014.0,1301.4 L2015.5,1301.2 L2017.0,1301.0 L2018.5,1300.7 L2020.0,1300.5 L2021.5,1300.3 L2023.0,1300.0 L2024.5,1299.8 L2026.0,1299.6 L2027.5,1299.3 L2029.0,1299.1 L2030.5,1298.9 L2032.0,1298.6 L2033.5,1298.4 L2035.0,1298.1 L2036.5,1297.9 L2038.1,1297.7 L2039.6,1297.4 L2041.1,1297.2 L2042.6,1296.9 L2044.1,1296.7 L2045.6,1296.4 L2047.1,1296.2 L2048.6,1295.9 L2050.1,1295.7 L2051.6,1295.4 L2053.1,1295.2 L2054.6,1294.9 L2056.1,1294.7 L2057.6,1294.4 L2059.1,1294.2 L2060.6,1293.9 L2062.1,1293.6 L2063.6,1293.4 L2065.1,1293.1 L2066.6,1292.8 L2068.1,1292.6 L2069.6,1292.3 L2071.1,1292.1 L2072.6,1291.8 L2074.1,1291.5 L2075.6,1291.2 L2077.1,1291.0 L2078.6,1290.7 L2080.1,1290.4 L2081.6,1290.2 L2083.1,1289.9 L2084.6,1289.6 L2086.1,1289.3 L2087.6,1289.1 L2089.1,1288.8 L2090.6,1288.5 L2092.1,1288.2 L2093.6,1287.9 L2095.1,1287.6 L2096.6,1287.4 L2098.1,1287.1 L2099.6,1286.8 L2101.1,1286.5 L2102.6,1286.2 L2104.1,1285.9 L2105.6,1285.6 L2107.1,1285.3 L2108.6,1285.0 L2110.2,1284.7 L2111.7,1284.4 L2113.2,1284.1 L2114.7,1283.8 L2116.2,1283.5 L2117.7,1283.2 L2119.2,1282.9 L2120.7,1282.6 L2122.2,1282.3 L2123.7,1282.0 L2125.2,1281.7 L2126.7,1281.4 L2128.2,1281.1 L2129.7,1280.8 L2131.2,1280.5 L2132.7,1280.2 L2134.2,1279.9 L2135.7,1279.5 L2137.2,1279.2 L2138.7,1278.9 L2140.2,1278.6 L2141.7,1278.3 L2143.2,1277.9 L2144.7,1277.6 L2146.2,1277.3 L2147.7,1277.0 L2149.2,1276.6 L2150.7,1276.3 L2152.2,1276.0 L2153.7,1275.7 L2155.2,1275.3 L2156.7,1275.0 L2158.2,1274.7 L2159.7,1274.3 L2161.2,1274.0 L2162.7,1273.7 L2164.2,1273.3 L2165.7,1273.0 L2167.2,1272.6 L2168.7,1272.3 L2170.2,1272.0 L2171.7,1271.6 L2173.2,1271.3 L2174.7,1270.9 L2176.2,1270.6 L2177.7,1270.2 L2179.2,1269.9 L2180.7,1269.5 L2182.3,1269.2 L2183.8,1268.8 L2185.3,1268.5 L2186.8,1268.1 L2188.3,1267.7 L2189.8,1267.4 L2191.3,1267.0 L2192.8,1266.7 L2194.3,1266.3 L2195.8,1265.9 L2197.3,1265.6 L2198.8,1265.2 L2200.3,1264.8 L2201.8,1264.5 L2203.3,1264.1 L2204.8,1263.7 L2206.3,1263.3 L2207.8,1263.0 L2209.3,1262.6 L2210.8,1262.2 L2212.3,1261.8 L2213.8,1261.4 L2215.3,1261.1 L2216.8,1260.7 L2218.3,1260.3 L2219.8,1259.9 L2221.3,1259.5 L2222.8,1259.1 L2224.3,1258.8 L2225.8,1258.4 L2227.3,1258.0 L2228.8,1257.6 L2230.3,1257.2 L2231.8,1256.8 L2233.3,1256.4 L2234.8,1256.0 L2236.3,1255.6 L2237.8,1255.2 L2239.3,1254.8 L2240.8,1254.4 L2242.3,1254.0 L2243.8,1253.6 L2245.3,1253.2 L2246.8,1252.7 L2248.3,1252.3 L2249.8,1251.9 L2251.3,1251.5 L2252.8,1251.1 L2254.4,1250.7 L2255.9,1250.3 L2257.4,1249.8 L2258.9,1249.4 L2260.4,1249.0 L2261.9,1248.6 L2263.4,1248.2 L2264.9,1247.7 L2266.4,1247.3 L2267.9,1246.9 L2269.4,1246.4 L2270.9,1246.0 L2272.4,1245.6 L2273.9,1245.1 L2275.4,1244.7 L2276.9,1244.3 L2278.4,1243.8 L2279.9,1243.4 L2281.4,1243.0 L2282.9,1242.5 L2284.4,1242.1 L2285.9,1241.6 L2287.4,1241.2 L2288.9,1240.7 L2290.4,1240.3 L2291.9,1239.8 L2293.4,1239.4 L2294.9,1238.9 L2296.4,1238.5 L2297.9,1238.0 L2299.4,1237.6 L2300.9,1237.1 L2302.4,1236.6 L2303.9,1236.2 L2305.4,1235.7 L2306.9,1235.2 L2308.4,1234.8 L2309.9,1234.3 L2311.4,1233.8 L2312.9,1233.4 L2314.4,1232.9 L2315.9,1232.4 L2317.4,1231.9 L2318.9,1231.5 L2320.4,1231.0 L2321.9,1230.5 L2323.4,1230.0 L2324.9,1229.5 L2326.5,1229.1 L2328.0,1228.6 L2329.5,1228.1 L2331.0,1227.6 L2332.5,1227.1 L2334.0,1226.6 L2335.5,1226.1 L2337.0,1225.6 L2338.5,1225.1 L2340.0,1224.6 L2341.5,1224.1 L2343.0,1223.6 L2344.5,1223.1 L2346.0,1222.6 L2347.5,1222.1 L2349.0,1221.6 L2350.5,1221.1 L2352.0,1220.6 L2353.5,1220.1 L2355.0,1219.6 L2356.5,1219.1 L2358.0,1218.5 L2359.5,1218.0 L2361.0,1217.5" stroke="#FF00FF" stroke-width="7"/>
</g>
</g>
<g font-family="'Liberation Sans', Arial, sans-serif" font-size="74" fill="#000">
<text transform="translate(327.0,94.0) scale(1,1.02)" text-anchor="end">1.546</text>
<text transform="translate(327.0,527.3) scale(1,1.02)" text-anchor="end">1.545</text>
<text transform="translate(327.0,960.7) scale(1,1.02)" text-anchor="end">1.544</text>
<text transform="translate(327.0,1394.0) scale(1,1.02)" text-anchor="end">1.543</text>
<text transform="translate(355.5,1480.5) scale(1,1.02)" text-anchor="middle">0</text>
<text transform="translate(752.8,1480.5) scale(1,1.02)" text-anchor="middle">5</text>
<text transform="translate(1150.0,1480.5) scale(1,1.02)" text-anchor="middle">10</text>
<text transform="translate(1643.0,1480.5) scale(1,1.02)" text-anchor="middle">0</text>
<text transform="translate(1941.0,1480.5) scale(1,1.02)" text-anchor="middle">5</text>
<text transform="translate(2239.0,1480.5) scale(1,1.02)" text-anchor="middle">10</text>
<text transform="translate(1616.0,467.8) scale(1,1.02)" text-anchor="end">0</text>
<text transform="translate(1616.0,278.2) scale(1,1.02)" text-anchor="end">1</text>
<text transform="translate(1616.0,88.8) scale(1,1.02)" text-anchor="end">2</text>
<text transform="translate(1616.0,927.3) scale(1,1.02)" text-anchor="end">0</text>
<text transform="translate(1616.0,758.6) scale(1,1.02)" text-anchor="end">1</text>
<text transform="translate(1616.0,590.0) scale(1,1.02)" text-anchor="end">2</text>
<text transform="translate(1616.0,1309.0) scale(1,1.02)" text-anchor="end">5.5</text>
<text transform="translate(1616.0,1041.5) scale(1,1.02)" text-anchor="end">6.0</text>
</g>
<g font-family="'Liberation Sans', Arial, sans-serif" font-size="86" fill="#000">
<text transform="translate(833.0,1561.8) scale(1,1.02)" text-anchor="middle">B [T]</text>
<text transform="translate(1983.0,1567.0) scale(1,1.02)" text-anchor="middle">B [T]</text>
<text transform="translate(91.5,683.0) rotate(-90) scale(1,1.02)" text-anchor="middle">E<tspan font-size="59" dy="24.02">X</tspan><tspan dy="-24.02"> [eV]</tspan></text>
<text transform="translate(1471.2,255.1) rotate(-90) scale(1,1.02)" text-anchor="middle">dE<tspan font-size="60" dy="23.04">e</tspan><tspan dy="-23.04"> [meV]</tspan></text>
<text transform="translate(1471.2,729.1) rotate(-90) scale(1,1.02)" text-anchor="middle">dE<tspan font-size="60" dy="24.51">h</tspan><tspan dy="-24.51"> [meV]</tspan></text>
<text transform="translate(1474.4,1204.2) rotate(-90) scale(1,1.02)" text-anchor="middle">C<tspan font-size="60" dy="23.92">eh</tspan><tspan dy="-23.92"> [meV]</tspan></text>
</g>
</svg>
</body></html>
